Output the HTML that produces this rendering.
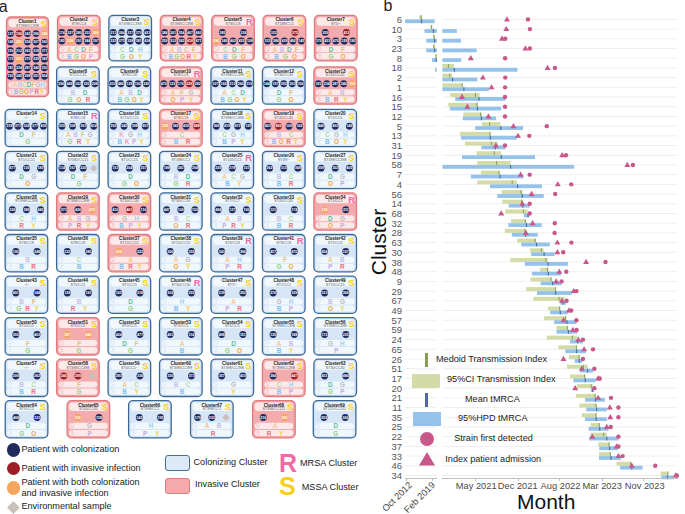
<!DOCTYPE html>
<html><head><meta charset="utf-8"><style>
html,body{margin:0;padding:0;background:#fff;}
body{width:685px;height:514px;position:relative;overflow:hidden;font-family:"Liberation Sans",sans-serif;}
.cb{position:absolute;box-sizing:border-box;border:1.3px solid;border-radius:5px;}
.cb *{position:absolute;}
.tp{left:1.2px;right:1.2px;top:1.3px;height:8.4px;border-radius:4px;}
.tt{left:5.1px;width:30px;top:1.9px;font-size:4.8px;line-height:5px;font-weight:bold;text-align:center;color:#222;letter-spacing:-0.05px;white-space:nowrap;}
.ts{left:5.6px;width:30px;top:5.9px;font-size:3.7px;line-height:4px;text-align:center;color:#555;white-space:nowrap;}
.rs{right:1.6px;top:0.3px;font-size:9.6px;line-height:9px;font-weight:bold;}
.ci{width:6.6px;height:6.6px;border-radius:50%;color:#fff;font-size:3.3px;font-weight:bold;line-height:6.6px;text-align:center;letter-spacing:-0.1px;overflow:hidden;}
.dm{width:5.2px;height:5.2px;background:#c9c1b9;transform:rotate(45deg);}
.lp{left:1.3px;right:1.3px;height:6.0px;border-radius:3px;}
.lt{top:0;width:10px;text-align:center;font-size:6.4px;line-height:6.2px;font-weight:bold;}
.lg{position:absolute;font-size:9.15px;line-height:11px;color:#222;white-space:nowrap;}
.gl{position:absolute;height:1px;background:#efefef;}
.rl{position:absolute;left:370px;width:32px;text-align:right;font-size:9.5px;line-height:12px;color:#555;}
.gb{position:absolute;height:4px;background:#d3dca6;}
.bb{position:absolute;height:3.8px;background:#94c2ea;}
.mt{position:absolute;width:1px;height:4px;background:#8aa04f;}
.nt{position:absolute;width:1.1px;height:3.8px;background:#4d6c9c;}
.tr{position:absolute;}
.cr{position:absolute;width:4.3px;height:4.3px;border-radius:50%;background:#c8578a;}
.ax{position:absolute;height:1px;background:#bdbdbd;}
.tk{position:absolute;width:1px;height:2.5px;background:#bdbdbd;}
.xl{position:absolute;font-size:9.3px;line-height:11px;color:#4a4a4a;white-space:nowrap;}
</style></head><body>
<div style="position:absolute;left:-1.2px;top:-3.3px;font-size:16px;line-height:19px;color:#222">a</div>
<div style="position:absolute;left:383.4px;top:-3.6px;font-size:16px;line-height:19px;color:#222">b</div>
<svg style="position:absolute;left:0;top:0" width="685" height="440" viewBox="0 0 685 440"><style>.tt{font:bold 4.6px "Liberation Sans",sans-serif;fill:#222;text-anchor:middle}.ts{font:3.6px "Liberation Sans",sans-serif;fill:#555;text-anchor:middle}.rs{font:bold 9.2px "Liberation Sans",sans-serif}.cn{font:bold 3.6px "Liberation Sans",sans-serif;fill:#fff;text-anchor:middle}.lt{font:bold 6.4px "Liberation Sans",sans-serif;text-anchor:middle}</style><rect x="6.5" y="17" width="42" height="79.6" rx="4.3" fill="#f4abad" stroke="#e0797e" stroke-width="1.3"/><rect x="8.5" y="18.9" width="38" height="8.4" rx="3.6" fill="#fde9ea"/><text x="27.5" y="22.9" class="tt">Cluster1</text><text x="27.5" y="26.5" class="ts">ST398/CC398</text><text x="40.8" y="26.6" class="rs" fill="#f7cf1b">S</text><circle cx="10.54" cy="33.6" r="3.45" fill="#1f2b5e"/><text x="10.54" y="34.75" class="cn">137</text><circle cx="19.02" cy="33.6" r="3.45" fill="#9c1d26"/><text x="19.02" y="34.75" class="cn">190</text><circle cx="27.5" cy="33.6" r="3.45" fill="#1f2b5e"/><text x="27.5" y="34.75" class="cn">243</text><circle cx="35.98" cy="33.6" r="3.45" fill="#1f2b5e"/><text x="35.98" y="34.75" class="cn">296</text><circle cx="44.46" cy="33.6" r="3.45" fill="#f5a55c"/><text x="44.46" y="34.75" class="cn">349</text><circle cx="10.54" cy="42.12" r="3.45" fill="#1f2b5e"/><text x="10.54" y="43.27" class="cn">148</text><circle cx="19.02" cy="42.12" r="3.45" fill="#f5a55c"/><text x="19.02" y="43.27" class="cn">201</text><circle cx="27.5" cy="42.12" r="3.45" fill="#1f2b5e"/><text x="27.5" y="43.27" class="cn">254</text><circle cx="35.98" cy="42.12" r="3.45" fill="#1f2b5e"/><text x="35.98" y="43.27" class="cn">307</text><circle cx="44.46" cy="42.12" r="3.45" fill="#1f2b5e"/><text x="44.46" y="43.27" class="cn">360</text><circle cx="10.54" cy="50.64" r="3.45" fill="#1f2b5e"/><text x="10.54" y="51.79" class="cn">159</text><circle cx="19.02" cy="50.64" r="3.45" fill="#1f2b5e"/><text x="19.02" y="51.79" class="cn">212</text><circle cx="27.5" cy="50.64" r="3.45" fill="#1f2b5e"/><text x="27.5" y="51.79" class="cn">265</text><circle cx="35.98" cy="50.64" r="3.45" fill="#1f2b5e"/><text x="35.98" y="51.79" class="cn">318</text><circle cx="44.46" cy="50.64" r="3.45" fill="#1f2b5e"/><text x="44.46" y="51.79" class="cn">371</text><circle cx="10.54" cy="59.16" r="3.45" fill="#1f2b5e"/><text x="10.54" y="60.31" class="cn">170</text><circle cx="19.02" cy="59.16" r="3.45" fill="#f5a55c"/><text x="19.02" y="60.31" class="cn">223</text><circle cx="27.5" cy="59.16" r="3.45" fill="#1f2b5e"/><text x="27.5" y="60.31" class="cn">276</text><circle cx="35.98" cy="59.16" r="3.45" fill="#1f2b5e"/><text x="35.98" y="60.31" class="cn">329</text><circle cx="44.46" cy="59.16" r="3.45" fill="#1f2b5e"/><text x="44.46" y="60.31" class="cn">382</text><circle cx="10.54" cy="67.68" r="3.45" fill="#1f2b5e"/><text x="10.54" y="68.83" class="cn">181</text><circle cx="19.02" cy="67.68" r="3.45" fill="#1f2b5e"/><text x="19.02" y="68.83" class="cn">234</text><circle cx="27.5" cy="67.68" r="3.45" fill="#1f2b5e"/><text x="27.5" y="68.83" class="cn">287</text><circle cx="35.98" cy="67.68" r="3.45" fill="#1f2b5e"/><text x="35.98" y="68.83" class="cn">340</text><circle cx="44.46" cy="67.68" r="3.45" fill="#1f2b5e"/><text x="44.46" y="68.83" class="cn">393</text><circle cx="10.54" cy="76.2" r="3.45" fill="#1f2b5e"/><text x="10.54" y="77.35" class="cn">192</text><circle cx="19.02" cy="76.2" r="3.45" fill="#1f2b5e"/><text x="19.02" y="77.35" class="cn">245</text><circle cx="27.5" cy="76.2" r="3.45" fill="#1f2b5e"/><text x="27.5" y="77.35" class="cn">298</text><circle cx="35.98" cy="76.2" r="3.45" fill="#1f2b5e"/><text x="35.98" y="77.35" class="cn">351</text><circle cx="44.46" cy="76.2" r="3.45" fill="#1f2b5e"/><text x="44.46" y="77.35" class="cn">404</text><rect x="8.5" y="81.6" width="38" height="6.1" rx="3" fill="#fde9ea"/><path d="M11.7 86.85 L10.4 84.45 A1.5 1.5 0 1 1 13 84.45 Z" fill="none" stroke="#e8a0a8" stroke-width="0.5"/><text x="15.5" y="87.15" class="lt" fill="#f8c690">A</text><text x="20" y="87.15" class="lt" fill="#c6bee6">B</text><text x="24.5" y="87.15" class="lt" fill="#b3dc9c">C</text><text x="29" y="87.15" class="lt" fill="#5dbf9b">D</text><text x="33.5" y="87.15" class="lt" fill="#dcc37f">F</text><text x="38" y="87.15" class="lt" fill="#b9b9b9">G</text><text x="42.5" y="87.15" class="lt" fill="#9dd3f1">H</text><rect x="8.5" y="88.7" width="38" height="6.1" rx="3" fill="#fde9ea"/><circle cx="11.7" cy="90.75" r="0.9" fill="none" stroke="#e8a0a8" stroke-width="0.5"/><path d="M10 93.95 Q11.7 91.55 13.4 93.95" fill="none" stroke="#e8a0a8" stroke-width="0.5"/><text x="16.14" y="94.25" class="lt" fill="#7dc2ef">B</text><text x="21.29" y="94.25" class="lt" fill="#92d07a">G</text><text x="26.43" y="94.25" class="lt" fill="#f5a53c">O</text><text x="31.57" y="94.25" class="lt" fill="#cba6e0">P</text><text x="36.71" y="94.25" class="lt" fill="#ef6f7b">R</text><text x="41.86" y="94.25" class="lt" fill="#f1d14b">Y</text><rect x="57.5" y="15.4" width="42.6" height="45.5" rx="4.3" fill="#f4abad" stroke="#e0797e" stroke-width="1.3"/><rect x="59.5" y="17.3" width="38.6" height="8.4" rx="3.6" fill="#fde9ea"/><text x="78.8" y="21.3" class="tt">Cluster2</text><text x="78.8" y="24.9" class="ts">ST8/CC8</text><text x="91.8" y="25" class="rs" fill="#f7cf1b">S</text><circle cx="61.84" cy="32.4" r="3.45" fill="#1f2b5e"/><text x="61.84" y="33.55" class="cn">174</text><circle cx="70.32" cy="32.4" r="3.45" fill="#1f2b5e"/><text x="70.32" y="33.55" class="cn">227</text><circle cx="78.8" cy="32.4" r="3.45" fill="#1f2b5e"/><text x="78.8" y="33.55" class="cn">280</text><circle cx="87.28" cy="32.4" r="3.45" fill="#1f2b5e"/><text x="87.28" y="33.55" class="cn">333</text><circle cx="95.76" cy="32.4" r="3.45" fill="#f5a55c"/><text x="95.76" y="33.55" class="cn">386</text><circle cx="61.84" cy="41" r="3.45" fill="#1f2b5e"/><text x="61.84" y="42.15" class="cn">185</text><circle cx="70.32" cy="41" r="3.45" fill="#f5a55c"/><text x="70.32" y="42.15" class="cn">238</text><circle cx="78.8" cy="41" r="3.45" fill="#1f2b5e"/><text x="78.8" y="42.15" class="cn">291</text><circle cx="87.28" cy="41" r="3.45" fill="#1f2b5e"/><text x="87.28" y="42.15" class="cn">344</text><circle cx="95.76" cy="41" r="3.45" fill="#1f2b5e"/><text x="95.76" y="42.15" class="cn">397</text><rect x="59.5" y="46.05" width="38.6" height="6.1" rx="3" fill="#fde9ea"/><path d="M62.7 51.3 L61.4 48.9 A1.5 1.5 0 1 1 64 48.9 Z" fill="none" stroke="#e8a0a8" stroke-width="0.5"/><text x="69.2" y="52.1" class="lt" fill="#f8c690">A</text><text x="76.4" y="52.1" class="lt" fill="#b3dc9c">C</text><text x="83.6" y="52.1" class="lt" fill="#5dbf9b">D</text><text x="90.8" y="52.1" class="lt" fill="#dcc37f">F</text><rect x="59.5" y="53.05" width="38.6" height="6.1" rx="3" fill="#fde9ea"/><circle cx="62.7" cy="55.1" r="0.9" fill="none" stroke="#e8a0a8" stroke-width="0.5"/><path d="M61 58.3 Q62.7 55.9 64.4 58.3" fill="none" stroke="#e8a0a8" stroke-width="0.5"/><text x="69.2" y="59.1" class="lt" fill="#7dc2ef">B</text><text x="76.4" y="59.1" class="lt" fill="#92d07a">G</text><text x="83.6" y="59.1" class="lt" fill="#f5a53c">O</text><text x="90.8" y="59.1" class="lt" fill="#cba6e0">P</text><rect x="108.9" y="15.4" width="42.6" height="45.5" rx="4.3" fill="#d7e6f6" stroke="#3b6997" stroke-width="1.3"/><rect x="110.9" y="17.3" width="38.6" height="8.4" rx="3.6" fill="#f0f7fd"/><text x="130.2" y="21.3" class="tt">Cluster3</text><text x="130.2" y="24.9" class="ts">ST398/CC398</text><text x="143.2" y="25" class="rs" fill="#f7cf1b">S</text><circle cx="113.24" cy="32.4" r="3.45" fill="#1f2b5e"/><text x="113.24" y="33.55" class="cn">211</text><circle cx="121.72" cy="32.4" r="3.45" fill="#1f2b5e"/><text x="121.72" y="33.55" class="cn">264</text><circle cx="130.2" cy="32.4" r="3.45" fill="#1f2b5e"/><text x="130.2" y="33.55" class="cn">317</text><circle cx="138.68" cy="32.4" r="3.45" fill="#1f2b5e"/><text x="138.68" y="33.55" class="cn">370</text><circle cx="147.16" cy="32.4" r="3.45" fill="#1f2b5e"/><text x="147.16" y="33.55" class="cn">423</text><circle cx="113.24" cy="41" r="3.45" fill="#1f2b5e"/><text x="113.24" y="42.15" class="cn">222</text><circle cx="121.72" cy="41" r="3.45" fill="#1f2b5e"/><text x="121.72" y="42.15" class="cn">275</text><circle cx="130.2" cy="41" r="3.45" fill="#1f2b5e"/><text x="130.2" y="42.15" class="cn">328</text><circle cx="138.68" cy="41" r="3.45" fill="#1f2b5e"/><text x="138.68" y="42.15" class="cn">381</text><circle cx="147.16" cy="41" r="3.45" fill="#1f2b5e"/><text x="147.16" y="42.15" class="cn">434</text><rect x="110.9" y="46.05" width="38.6" height="6.1" rx="3" fill="#f0f7fd"/><path d="M114.1 51.3 L112.8 48.9 A1.5 1.5 0 1 1 115.4 48.9 Z" fill="none" stroke="#c9d9ea" stroke-width="0.5"/><text x="122.4" y="52.1" class="lt" fill="#b3dc9c">C</text><text x="131.4" y="52.1" class="lt" fill="#5dbf9b">D</text><text x="140.4" y="52.1" class="lt" fill="#9dd3f1">H</text><rect x="110.9" y="53.05" width="38.6" height="6.1" rx="3" fill="#f0f7fd"/><circle cx="114.1" cy="55.1" r="0.9" fill="none" stroke="#c9d9ea" stroke-width="0.5"/><path d="M112.4 58.3 Q114.1 55.9 115.8 58.3" fill="none" stroke="#c9d9ea" stroke-width="0.5"/><text x="122.4" y="59.1" class="lt" fill="#92d07a">G</text><text x="131.4" y="59.1" class="lt" fill="#f5a53c">O</text><text x="140.4" y="59.1" class="lt" fill="#f1d14b">Y</text><rect x="160.3" y="15.4" width="42.6" height="45.5" rx="4.3" fill="#f4abad" stroke="#e0797e" stroke-width="1.3"/><rect x="162.3" y="17.3" width="38.6" height="8.4" rx="3.6" fill="#fde9ea"/><text x="181.6" y="21.3" class="tt">Cluster4</text><text x="181.6" y="24.9" class="ts">ST398/CC398</text><text x="194.6" y="25" class="rs" fill="#f7cf1b">S</text><circle cx="164.64" cy="32.4" r="3.45" fill="#1f2b5e"/><text x="164.64" y="33.55" class="cn">248</text><circle cx="173.12" cy="32.4" r="3.45" fill="#1f2b5e"/><text x="173.12" y="33.55" class="cn">301</text><circle cx="181.6" cy="32.4" r="3.45" fill="#1f2b5e"/><text x="181.6" y="33.55" class="cn">354</text><circle cx="190.08" cy="32.4" r="3.45" fill="#1f2b5e"/><text x="190.08" y="33.55" class="cn">407</text><circle cx="198.56" cy="32.4" r="3.45" fill="#1f2b5e"/><text x="198.56" y="33.55" class="cn">460</text><circle cx="164.64" cy="41" r="3.45" fill="#1f2b5e"/><text x="164.64" y="42.15" class="cn">259</text><circle cx="173.12" cy="41" r="3.45" fill="#1f2b5e"/><text x="173.12" y="42.15" class="cn">312</text><circle cx="181.6" cy="41" r="3.45" fill="#1f2b5e"/><text x="181.6" y="42.15" class="cn">365</text><circle cx="190.08" cy="41" r="3.45" fill="#9c1d26"/><text x="190.08" y="42.15" class="cn">418</text><circle cx="198.56" cy="41" r="3.45" fill="#1f2b5e"/><text x="198.56" y="42.15" class="cn">471</text><rect x="162.3" y="46.05" width="38.6" height="6.1" rx="3" fill="#fde9ea"/><path d="M165.5 51.3 L164.2 48.9 A1.5 1.5 0 1 1 166.8 48.9 Z" fill="none" stroke="#e8a0a8" stroke-width="0.5"/><text x="172" y="52.1" class="lt" fill="#f8c690">A</text><text x="179.2" y="52.1" class="lt" fill="#c6bee6">B</text><text x="186.4" y="52.1" class="lt" fill="#b3dc9c">C</text><text x="193.6" y="52.1" class="lt" fill="#dcc37f">F</text><rect x="162.3" y="53.05" width="38.6" height="6.1" rx="3" fill="#fde9ea"/><circle cx="165.5" cy="55.1" r="0.9" fill="none" stroke="#e8a0a8" stroke-width="0.5"/><path d="M163.8 58.3 Q165.5 55.9 167.2 58.3" fill="none" stroke="#e8a0a8" stroke-width="0.5"/><text x="170.8" y="59.1" class="lt" fill="#7dc2ef">B</text><text x="176.8" y="59.1" class="lt" fill="#92d07a">G</text><text x="182.8" y="59.1" class="lt" fill="#f5a53c">O</text><text x="188.8" y="59.1" class="lt" fill="#ef6f7b">R</text><text x="194.8" y="59.1" class="lt" fill="#f1d14b">Y</text><rect x="211.7" y="15.4" width="42.6" height="45.5" rx="4.3" fill="#f4abad" stroke="#e0797e" stroke-width="1.3"/><rect x="213.7" y="17.3" width="38.6" height="8.4" rx="3.6" fill="#fde9ea"/><text x="233" y="21.3" class="tt">Cluster5</text><text x="233" y="24.9" class="ts">ST8/CC8</text><text x="246" y="25" class="rs" fill="#f06aa8">R</text><circle cx="222.4" cy="32.4" r="3.45" fill="#1f2b5e"/><text x="222.4" y="33.55" class="cn">285</text><circle cx="243.6" cy="32.4" r="3.45" fill="#1f2b5e"/><text x="243.6" y="33.55" class="cn">338</text><circle cx="216.04" cy="41" r="3.45" fill="#f5a55c"/><text x="216.04" y="42.15" class="cn">296</text><circle cx="224.52" cy="41" r="3.45" fill="#1f2b5e"/><text x="224.52" y="42.15" class="cn">349</text><circle cx="233" cy="41" r="3.45" fill="#1f2b5e"/><text x="233" y="42.15" class="cn">402</text><circle cx="241.48" cy="41" r="3.45" fill="#1f2b5e"/><text x="241.48" y="42.15" class="cn">455</text><circle cx="249.96" cy="41" r="3.45" fill="#1f2b5e"/><text x="249.96" y="42.15" class="cn">108</text><rect x="213.7" y="46.05" width="38.6" height="6.1" rx="3" fill="#fde9ea"/><path d="M216.9 51.3 L215.6 48.9 A1.5 1.5 0 1 1 218.2 48.9 Z" fill="none" stroke="#e8a0a8" stroke-width="0.5"/><text x="225.2" y="52.1" class="lt" fill="#b3dc9c">C</text><text x="234.2" y="52.1" class="lt" fill="#5dbf9b">D</text><text x="243.2" y="52.1" class="lt" fill="#dcc37f">F</text><rect x="213.7" y="53.05" width="38.6" height="6.1" rx="3" fill="#fde9ea"/><circle cx="216.9" cy="55.1" r="0.9" fill="none" stroke="#e8a0a8" stroke-width="0.5"/><path d="M215.2 58.3 Q216.9 55.9 218.6 58.3" fill="none" stroke="#e8a0a8" stroke-width="0.5"/><text x="225.2" y="59.1" class="lt" fill="#7dc2ef">B</text><text x="234.2" y="59.1" class="lt" fill="#92d07a">G</text><text x="243.2" y="59.1" class="lt" fill="#f5a53c">O</text><rect x="263.1" y="15.4" width="42.6" height="45.5" rx="4.3" fill="#f4abad" stroke="#e0797e" stroke-width="1.3"/><rect x="265.1" y="17.3" width="38.6" height="8.4" rx="3.6" fill="#fde9ea"/><text x="284.4" y="21.3" class="tt">Cluster6</text><text x="284.4" y="24.9" class="ts">ST188/CC1</text><text x="297.4" y="25" class="rs" fill="#f7cf1b">S</text><circle cx="273.8" cy="32.4" r="3.45" fill="#1f2b5e"/><text x="273.8" y="33.55" class="cn">322</text><circle cx="295" cy="32.4" r="3.45" fill="#9c1d26"/><text x="295" y="33.55" class="cn">375</text><circle cx="267.44" cy="41" r="3.45" fill="#1f2b5e"/><text x="267.44" y="42.15" class="cn">333</text><circle cx="275.92" cy="41" r="3.45" fill="#1f2b5e"/><text x="275.92" y="42.15" class="cn">386</text><circle cx="284.4" cy="41" r="3.45" fill="#1f2b5e"/><text x="284.4" y="42.15" class="cn">439</text><circle cx="292.88" cy="41" r="3.45" fill="#1f2b5e"/><text x="292.88" y="42.15" class="cn">492</text><circle cx="301.36" cy="41" r="3.45" fill="#1f2b5e"/><text x="301.36" y="42.15" class="cn">145</text><rect x="265.1" y="46.05" width="38.6" height="6.1" rx="3" fill="#fde9ea"/><path d="M268.3 51.3 L267 48.9 A1.5 1.5 0 1 1 269.6 48.9 Z" fill="none" stroke="#e8a0a8" stroke-width="0.5"/><text x="274.8" y="52.1" class="lt" fill="#f8c690">A</text><text x="282" y="52.1" class="lt" fill="#c6bee6">B</text><text x="289.2" y="52.1" class="lt" fill="#5dbf9b">D</text><text x="296.4" y="52.1" class="lt" fill="#dcc37f">F</text><rect x="265.1" y="53.05" width="38.6" height="6.1" rx="3" fill="#fde9ea"/><circle cx="268.3" cy="55.1" r="0.9" fill="none" stroke="#e8a0a8" stroke-width="0.5"/><path d="M266.6 58.3 Q268.3 55.9 270 58.3" fill="none" stroke="#e8a0a8" stroke-width="0.5"/><text x="276.6" y="59.1" class="lt" fill="#7dc2ef">B</text><text x="285.6" y="59.1" class="lt" fill="#92d07a">G</text><text x="294.6" y="59.1" class="lt" fill="#f5a53c">O</text><rect x="314.5" y="15.4" width="42.6" height="45.5" rx="4.3" fill="#f4abad" stroke="#e0797e" stroke-width="1.3"/><rect x="316.5" y="17.3" width="38.6" height="8.4" rx="3.6" fill="#fde9ea"/><text x="335.8" y="21.3" class="tt">Cluster7</text><text x="335.8" y="24.9" class="ts">ST5/~</text><text x="348.8" y="25" class="rs" fill="#f7cf1b">S</text><circle cx="325.2" cy="32.4" r="3.45" fill="#1f2b5e"/><text x="325.2" y="33.55" class="cn">359</text><circle cx="346.4" cy="32.4" r="3.45" fill="#9c1d26"/><text x="346.4" y="33.55" class="cn">412</text><circle cx="318.84" cy="41" r="3.45" fill="#1f2b5e"/><text x="318.84" y="42.15" class="cn">370</text><circle cx="327.32" cy="41" r="3.45" fill="#1f2b5e"/><text x="327.32" y="42.15" class="cn">423</text><circle cx="335.8" cy="41" r="3.45" fill="#1f2b5e"/><text x="335.8" y="42.15" class="cn">476</text><circle cx="344.28" cy="41" r="3.45" fill="#1f2b5e"/><text x="344.28" y="42.15" class="cn">129</text><circle cx="352.76" cy="41" r="3.45" fill="#1f2b5e"/><text x="352.76" y="42.15" class="cn">182</text><rect x="316.5" y="46.05" width="38.6" height="6.1" rx="3" fill="#fde9ea"/><path d="M319.7 51.3 L318.4 48.9 A1.5 1.5 0 1 1 321 48.9 Z" fill="none" stroke="#e8a0a8" stroke-width="0.5"/><text x="331" y="52.1" class="lt" fill="#5dbf9b">D</text><text x="343" y="52.1" class="lt" fill="#dcc37f">F</text><rect x="316.5" y="53.05" width="38.6" height="6.1" rx="3" fill="#fde9ea"/><circle cx="319.7" cy="55.1" r="0.9" fill="none" stroke="#e8a0a8" stroke-width="0.5"/><path d="M318 58.3 Q319.7 55.9 321.4 58.3" fill="none" stroke="#e8a0a8" stroke-width="0.5"/><text x="331" y="59.1" class="lt" fill="#92d07a">G</text><text x="343" y="59.1" class="lt" fill="#f5a53c">O</text><rect x="56.6" y="66.9" width="42.6" height="37.3" rx="4.3" fill="#d7e6f6" stroke="#3b6997" stroke-width="1.3"/><rect x="58.6" y="68.8" width="38.6" height="8.4" rx="3.6" fill="#f0f7fd"/><text x="77.9" y="72.8" class="tt">Cluster8</text><text x="77.9" y="76.4" class="ts">ST1/CC15</text><text x="90.9" y="76.5" class="rs" fill="#f7cf1b">S</text><circle cx="60.94" cy="83.75" r="3.45" fill="#1f2b5e"/><text x="60.94" y="84.9" class="cn">396</text><circle cx="69.42" cy="83.75" r="3.45" fill="#1f2b5e"/><text x="69.42" y="84.9" class="cn">449</text><circle cx="77.9" cy="83.75" r="3.45" fill="#1f2b5e"/><text x="77.9" y="84.9" class="cn">102</text><circle cx="86.38" cy="83.75" r="3.45" fill="#1f2b5e"/><text x="86.38" y="84.9" class="cn">155</text><circle cx="94.86" cy="83.75" r="3.45" fill="#1f2b5e"/><text x="94.86" y="84.9" class="cn">208</text><rect x="58.6" y="89.15" width="38.6" height="6.1" rx="3" fill="#f0f7fd"/><path d="M61.8 94.4 L60.5 92 A1.5 1.5 0 1 1 63.1 92 Z" fill="none" stroke="#c9d9ea" stroke-width="0.5"/><text x="73.1" y="94.7" class="lt" fill="#c6bee6">B</text><text x="85.1" y="94.7" class="lt" fill="#5dbf9b">D</text><rect x="58.6" y="96.25" width="38.6" height="6.1" rx="3" fill="#f0f7fd"/><circle cx="61.8" cy="98.3" r="0.9" fill="none" stroke="#c9d9ea" stroke-width="0.5"/><path d="M60.1 101.5 Q61.8 99.1 63.5 101.5" fill="none" stroke="#c9d9ea" stroke-width="0.5"/><text x="70.1" y="101.8" class="lt" fill="#92d07a">G</text><text x="79.1" y="101.8" class="lt" fill="#f5a53c">O</text><text x="88.1" y="101.8" class="lt" fill="#ef6f7b">R</text><rect x="108.06" y="66.9" width="42.6" height="37.3" rx="4.3" fill="#d7e6f6" stroke="#3b6997" stroke-width="1.3"/><rect x="110.06" y="68.8" width="38.6" height="8.4" rx="3.6" fill="#f0f7fd"/><text x="129.36" y="72.8" class="tt">Cluster9</text><text x="129.36" y="76.4" class="ts">ST8/CC8</text><text x="142.36" y="76.5" class="rs" fill="#f7cf1b">S</text><circle cx="112.4" cy="83.75" r="3.45" fill="#1f2b5e"/><text x="112.4" y="84.9" class="cn">433</text><circle cx="120.88" cy="83.75" r="3.45" fill="#1f2b5e"/><text x="120.88" y="84.9" class="cn">486</text><circle cx="129.36" cy="83.75" r="3.45" fill="#1f2b5e"/><text x="129.36" y="84.9" class="cn">139</text><circle cx="137.84" cy="83.75" r="3.45" fill="#1f2b5e"/><text x="137.84" y="84.9" class="cn">192</text><circle cx="146.32" cy="83.75" r="3.45" fill="#1f2b5e"/><text x="146.32" y="84.9" class="cn">245</text><rect x="110.06" y="89.15" width="38.6" height="6.1" rx="3" fill="#f0f7fd"/><path d="M113.26 94.4 L111.96 92 A1.5 1.5 0 1 1 114.56 92 Z" fill="none" stroke="#c9d9ea" stroke-width="0.5"/><text x="121.56" y="94.7" class="lt" fill="#f8c690">A</text><text x="130.56" y="94.7" class="lt" fill="#c6bee6">B</text><text x="139.56" y="94.7" class="lt" fill="#5dbf9b">D</text><rect x="110.06" y="96.25" width="38.6" height="6.1" rx="3" fill="#f0f7fd"/><circle cx="113.26" cy="98.3" r="0.9" fill="none" stroke="#c9d9ea" stroke-width="0.5"/><path d="M111.56 101.5 Q113.26 99.1 114.96 101.5" fill="none" stroke="#c9d9ea" stroke-width="0.5"/><text x="119.76" y="101.8" class="lt" fill="#7dc2ef">B</text><text x="126.96" y="101.8" class="lt" fill="#92d07a">G</text><text x="134.16" y="101.8" class="lt" fill="#f5a53c">O</text><text x="141.36" y="101.8" class="lt" fill="#f1d14b">Y</text><rect x="159.52" y="66.9" width="42.6" height="37.3" rx="4.3" fill="#f4abad" stroke="#e0797e" stroke-width="1.3"/><rect x="161.52" y="68.8" width="38.6" height="8.4" rx="3.6" fill="#fde9ea"/><text x="180.82" y="72.8" class="tt">Cluster10</text><text x="180.82" y="76.4" class="ts">ST8/CC8</text><text x="193.82" y="76.5" class="rs" fill="#f06aa8">R</text><circle cx="163.86" cy="83.75" r="3.45" fill="#1f2b5e"/><text x="163.86" y="84.9" class="cn">470</text><circle cx="172.34" cy="83.75" r="3.45" fill="#1f2b5e"/><text x="172.34" y="84.9" class="cn">123</text><circle cx="180.82" cy="83.75" r="3.45" fill="#1f2b5e"/><text x="180.82" y="84.9" class="cn">176</text><circle cx="189.3" cy="83.75" r="3.45" fill="#9c1d26"/><text x="189.3" y="84.9" class="cn">229</text><circle cx="197.78" cy="83.75" r="3.45" fill="#1f2b5e"/><text x="197.78" y="84.9" class="cn">282</text><rect x="161.52" y="89.15" width="38.6" height="6.1" rx="3" fill="#fde9ea"/><path d="M164.72 94.4 L163.42 92 A1.5 1.5 0 1 1 166.02 92 Z" fill="none" stroke="#e8a0a8" stroke-width="0.5"/><text x="173.02" y="94.7" class="lt" fill="#f8c690">A</text><text x="182.02" y="94.7" class="lt" fill="#dcc37f">F</text><text x="191.02" y="94.7" class="lt" fill="#b9b9b9">G</text><rect x="161.52" y="96.25" width="38.6" height="6.1" rx="3" fill="#fde9ea"/><circle cx="164.72" cy="98.3" r="0.9" fill="none" stroke="#e8a0a8" stroke-width="0.5"/><path d="M163.02 101.5 Q164.72 99.1 166.42 101.5" fill="none" stroke="#e8a0a8" stroke-width="0.5"/><text x="173.02" y="101.8" class="lt" fill="#f5a53c">O</text><text x="182.02" y="101.8" class="lt" fill="#cba6e0">P</text><text x="191.02" y="101.8" class="lt" fill="#f1d14b">Y</text><rect x="210.98" y="66.9" width="42.6" height="37.3" rx="4.3" fill="#d7e6f6" stroke="#3b6997" stroke-width="1.3"/><rect x="212.98" y="68.8" width="38.6" height="8.4" rx="3.6" fill="#f0f7fd"/><text x="232.28" y="72.8" class="tt">Cluster11</text><text x="232.28" y="76.4" class="ts">ST398/CC398</text><text x="245.28" y="76.5" class="rs" fill="#f7cf1b">S</text><circle cx="215.32" cy="83.75" r="3.45" fill="#1f2b5e"/><text x="215.32" y="84.9" class="cn">107</text><circle cx="223.8" cy="83.75" r="3.45" fill="#1f2b5e"/><text x="223.8" y="84.9" class="cn">160</text><circle cx="232.28" cy="83.75" r="3.45" fill="#1f2b5e"/><text x="232.28" y="84.9" class="cn">213</text><circle cx="240.76" cy="83.75" r="3.45" fill="#1f2b5e"/><text x="240.76" y="84.9" class="cn">266</text><circle cx="249.24" cy="83.75" r="3.45" fill="#1f2b5e"/><text x="249.24" y="84.9" class="cn">319</text><rect x="212.98" y="89.15" width="38.6" height="6.1" rx="3" fill="#f0f7fd"/><path d="M216.18 94.4 L214.88 92 A1.5 1.5 0 1 1 217.48 92 Z" fill="none" stroke="#c9d9ea" stroke-width="0.5"/><text x="224.48" y="94.7" class="lt" fill="#f8c690">A</text><text x="233.48" y="94.7" class="lt" fill="#b3dc9c">C</text><text x="242.48" y="94.7" class="lt" fill="#5dbf9b">D</text><rect x="212.98" y="96.25" width="38.6" height="6.1" rx="3" fill="#f0f7fd"/><circle cx="216.18" cy="98.3" r="0.9" fill="none" stroke="#c9d9ea" stroke-width="0.5"/><path d="M214.48 101.5 Q216.18 99.1 217.88 101.5" fill="none" stroke="#c9d9ea" stroke-width="0.5"/><text x="222.68" y="101.8" class="lt" fill="#7dc2ef">B</text><text x="229.88" y="101.8" class="lt" fill="#92d07a">G</text><text x="237.08" y="101.8" class="lt" fill="#f5a53c">O</text><text x="244.28" y="101.8" class="lt" fill="#f1d14b">Y</text><rect x="262.44" y="66.9" width="42.6" height="37.3" rx="4.3" fill="#d7e6f6" stroke="#3b6997" stroke-width="1.3"/><rect x="264.44" y="68.8" width="38.6" height="8.4" rx="3.6" fill="#f0f7fd"/><text x="283.74" y="72.8" class="tt">Cluster12</text><text x="283.74" y="76.4" class="ts">ST30/CC30</text><text x="296.74" y="76.5" class="rs" fill="#f7cf1b">S</text><circle cx="266.78" cy="83.75" r="3.45" fill="#1f2b5e"/><text x="266.78" y="84.9" class="cn">144</text><circle cx="275.26" cy="83.75" r="3.45" fill="#1f2b5e"/><text x="275.26" y="84.9" class="cn">197</text><circle cx="283.74" cy="83.75" r="3.45" fill="#1f2b5e"/><text x="283.74" y="84.9" class="cn">250</text><circle cx="292.22" cy="83.75" r="3.45" fill="#1f2b5e"/><text x="292.22" y="84.9" class="cn">303</text><circle cx="300.7" cy="83.75" r="3.45" fill="#1f2b5e"/><text x="300.7" y="84.9" class="cn">356</text><rect x="264.44" y="89.15" width="38.6" height="6.1" rx="3" fill="#f0f7fd"/><path d="M267.64 94.4 L266.34 92 A1.5 1.5 0 1 1 268.94 92 Z" fill="none" stroke="#c9d9ea" stroke-width="0.5"/><text x="278.94" y="94.7" class="lt" fill="#5dbf9b">D</text><text x="290.94" y="94.7" class="lt" fill="#dcc37f">F</text><rect x="264.44" y="96.25" width="38.6" height="6.1" rx="3" fill="#f0f7fd"/><circle cx="267.64" cy="98.3" r="0.9" fill="none" stroke="#c9d9ea" stroke-width="0.5"/><path d="M265.94 101.5 Q267.64 99.1 269.34 101.5" fill="none" stroke="#c9d9ea" stroke-width="0.5"/><text x="278.94" y="101.8" class="lt" fill="#92d07a">G</text><text x="290.94" y="101.8" class="lt" fill="#f5a53c">O</text><rect x="313.9" y="66.9" width="42.6" height="37.3" rx="4.3" fill="#f4abad" stroke="#e0797e" stroke-width="1.3"/><rect x="315.9" y="68.8" width="38.6" height="8.4" rx="3.6" fill="#fde9ea"/><text x="335.2" y="72.8" class="tt">Cluster13</text><text x="335.2" y="76.4" class="ts">ST45/CC45</text><text x="348.2" y="76.5" class="rs" fill="#f7cf1b">S</text><circle cx="318.24" cy="83.75" r="3.45" fill="#1f2b5e"/><text x="318.24" y="84.9" class="cn">181</text><circle cx="326.72" cy="83.75" r="3.45" fill="#1f2b5e"/><text x="326.72" y="84.9" class="cn">234</text><circle cx="335.2" cy="83.75" r="3.45" fill="#1f2b5e"/><text x="335.2" y="84.9" class="cn">287</text><circle cx="343.68" cy="83.75" r="3.45" fill="#1f2b5e"/><text x="343.68" y="84.9" class="cn">340</text><circle cx="352.16" cy="83.75" r="3.45" fill="#f5a55c"/><text x="352.16" y="84.9" class="cn">393</text><rect x="315.9" y="89.15" width="38.6" height="6.1" rx="3" fill="#fde9ea"/><path d="M319.1 94.4 L317.8 92 A1.5 1.5 0 1 1 320.4 92 Z" fill="none" stroke="#e8a0a8" stroke-width="0.5"/><text x="330.4" y="94.7" class="lt" fill="#f8c690">A</text><text x="342.4" y="94.7" class="lt" fill="#c6bee6">B</text><rect x="315.9" y="96.25" width="38.6" height="6.1" rx="3" fill="#fde9ea"/><circle cx="319.1" cy="98.3" r="0.9" fill="none" stroke="#e8a0a8" stroke-width="0.5"/><path d="M317.4 101.5 Q319.1 99.1 320.8 101.5" fill="none" stroke="#e8a0a8" stroke-width="0.5"/><text x="327.4" y="101.8" class="lt" fill="#7dc2ef">B</text><text x="336.4" y="101.8" class="lt" fill="#ef6f7b">R</text><text x="345.4" y="101.8" class="lt" fill="#f1d14b">Y</text><rect x="5.14" y="109.4" width="42.6" height="37.3" rx="4.3" fill="#d7e6f6" stroke="#3b6997" stroke-width="1.3"/><rect x="7.14" y="111.3" width="38.6" height="8.4" rx="3.6" fill="#f0f7fd"/><text x="26.44" y="115.3" class="tt">Cluster14</text><text x="26.44" y="118.9" class="ts">~/~</text><text x="39.44" y="119" class="rs" fill="#f7cf1b">S</text><circle cx="9.48" cy="126.25" r="3.45" fill="#1f2b5e"/><text x="9.48" y="127.4" class="cn">218</text><circle cx="17.96" cy="126.25" r="3.45" fill="#1f2b5e"/><text x="17.96" y="127.4" class="cn">271</text><circle cx="26.44" cy="126.25" r="3.45" fill="#1f2b5e"/><text x="26.44" y="127.4" class="cn">324</text><circle cx="34.92" cy="126.25" r="3.45" fill="#1f2b5e"/><text x="34.92" y="127.4" class="cn">377</text><circle cx="43.4" cy="126.25" r="3.45" fill="#1f2b5e"/><text x="43.4" y="127.4" class="cn">430</text><rect x="7.14" y="131.65" width="38.6" height="6.1" rx="3" fill="#f0f7fd"/><path d="M10.34 136.9 L9.04 134.5 A1.5 1.5 0 1 1 11.64 134.5 Z" fill="none" stroke="#c9d9ea" stroke-width="0.5"/><text x="21.64" y="137.2" class="lt" fill="#5dbf9b">D</text><text x="33.64" y="137.2" class="lt" fill="#dcc37f">F</text><rect x="7.14" y="138.75" width="38.6" height="6.1" rx="3" fill="#f0f7fd"/><circle cx="10.34" cy="140.8" r="0.9" fill="none" stroke="#c9d9ea" stroke-width="0.5"/><path d="M8.64 144 Q10.34 141.6 12.04 144" fill="none" stroke="#c9d9ea" stroke-width="0.5"/><text x="27.64" y="144.3" class="lt" fill="#92d07a">G</text><rect x="56.6" y="109.4" width="42.6" height="37.3" rx="4.3" fill="#d7e6f6" stroke="#3b6997" stroke-width="1.3"/><rect x="58.6" y="111.3" width="38.6" height="8.4" rx="3.6" fill="#f0f7fd"/><text x="77.9" y="115.3" class="tt">Cluster15</text><text x="77.9" y="118.9" class="ts">ST8/CC8</text><text x="90.9" y="119" class="rs" fill="#f06aa8">R</text><circle cx="62" cy="126.25" r="3.45" fill="#1f2b5e"/><text x="62" y="127.4" class="cn">255</text><circle cx="72.6" cy="126.25" r="3.45" fill="#1f2b5e"/><text x="72.6" y="127.4" class="cn">308</text><circle cx="83.2" cy="126.25" r="3.45" fill="#1f2b5e"/><text x="83.2" y="127.4" class="cn">361</text><circle cx="93.8" cy="126.25" r="3.45" fill="#1f2b5e"/><text x="93.8" y="127.4" class="cn">414</text><rect x="58.6" y="131.65" width="38.6" height="6.1" rx="3" fill="#f0f7fd"/><path d="M61.8 136.9 L60.5 134.5 A1.5 1.5 0 1 1 63.1 134.5 Z" fill="none" stroke="#c9d9ea" stroke-width="0.5"/><text x="68.3" y="137.2" class="lt" fill="#f8c690">A</text><text x="75.5" y="137.2" class="lt" fill="#c6bee6">B</text><text x="82.7" y="137.2" class="lt" fill="#dcc37f">F</text><text x="89.9" y="137.2" class="lt" fill="#b9b9b9">G</text><rect x="58.6" y="138.75" width="38.6" height="6.1" rx="3" fill="#f0f7fd"/><circle cx="61.8" cy="140.8" r="0.9" fill="none" stroke="#c9d9ea" stroke-width="0.5"/><path d="M60.1 144 Q61.8 141.6 63.5 144" fill="none" stroke="#c9d9ea" stroke-width="0.5"/><text x="70.1" y="144.3" class="lt" fill="#92d07a">G</text><text x="79.1" y="144.3" class="lt" fill="#ef6f7b">R</text><text x="88.1" y="144.3" class="lt" fill="#f1d14b">Y</text><rect x="108.06" y="109.4" width="42.6" height="37.3" rx="4.3" fill="#d7e6f6" stroke="#3b6997" stroke-width="1.3"/><rect x="110.06" y="111.3" width="38.6" height="8.4" rx="3.6" fill="#f0f7fd"/><text x="129.36" y="115.3" class="tt">Cluster16</text><text x="129.36" y="118.9" class="ts">ST15/CC15</text><text x="142.36" y="119" class="rs" fill="#f7cf1b">S</text><circle cx="113.46" cy="126.25" r="3.45" fill="#1f2b5e"/><text x="113.46" y="127.4" class="cn">292</text><circle cx="124.06" cy="126.25" r="3.45" fill="#1f2b5e"/><text x="124.06" y="127.4" class="cn">345</text><circle cx="134.66" cy="126.25" r="3.45" fill="#1f2b5e"/><text x="134.66" y="127.4" class="cn">398</text><circle cx="145.26" cy="126.25" r="3.45" fill="#1f2b5e"/><text x="145.26" y="127.4" class="cn">451</text><rect x="110.06" y="131.65" width="38.6" height="6.1" rx="3" fill="#f0f7fd"/><path d="M113.26 136.9 L111.96 134.5 A1.5 1.5 0 1 1 114.56 134.5 Z" fill="none" stroke="#c9d9ea" stroke-width="0.5"/><text x="121.56" y="137.2" class="lt" fill="#f3a5b8">K</text><text x="130.56" y="137.2" class="lt" fill="#b9b9b9">G</text><text x="139.56" y="137.2" class="lt" fill="#9dd3f1">H</text><rect x="110.06" y="138.75" width="38.6" height="6.1" rx="3" fill="#f0f7fd"/><circle cx="113.26" cy="140.8" r="0.9" fill="none" stroke="#c9d9ea" stroke-width="0.5"/><path d="M111.56 144 Q113.26 141.6 114.96 144" fill="none" stroke="#c9d9ea" stroke-width="0.5"/><text x="119.76" y="144.3" class="lt" fill="#7dc2ef">B</text><text x="126.96" y="144.3" class="lt" fill="#f39ab6">K</text><text x="134.16" y="144.3" class="lt" fill="#cba6e0">P</text><text x="141.36" y="144.3" class="lt" fill="#f1d14b">Y</text><rect x="159.52" y="109.4" width="42.6" height="37.3" rx="4.3" fill="#f4abad" stroke="#e0797e" stroke-width="1.3"/><rect x="161.52" y="111.3" width="38.6" height="8.4" rx="3.6" fill="#fde9ea"/><text x="180.82" y="115.3" class="tt">Cluster17</text><text x="180.82" y="118.9" class="ts">ST8/CC8</text><text x="193.82" y="119" class="rs" fill="#f7cf1b">S</text><circle cx="164.92" cy="126.25" r="3.45" fill="#f5a55c"/><text x="164.92" y="127.4" class="cn">329</text><circle cx="175.52" cy="126.25" r="3.45" fill="#1f2b5e"/><text x="175.52" y="127.4" class="cn">382</text><circle cx="186.12" cy="126.25" r="3.45" fill="#1f2b5e"/><text x="186.12" y="127.4" class="cn">435</text><circle cx="196.72" cy="126.25" r="3.45" fill="#9c1d26"/><text x="196.72" y="127.4" class="cn">488</text><rect x="161.52" y="131.65" width="38.6" height="6.1" rx="3" fill="#fde9ea"/><path d="M164.72 136.9 L163.42 134.5 A1.5 1.5 0 1 1 166.02 134.5 Z" fill="none" stroke="#e8a0a8" stroke-width="0.5"/><text x="182.02" y="137.2" class="lt" fill="#b3dc9c">C</text><rect x="161.52" y="138.75" width="38.6" height="6.1" rx="3" fill="#fde9ea"/><circle cx="164.72" cy="140.8" r="0.9" fill="none" stroke="#e8a0a8" stroke-width="0.5"/><path d="M163.02 144 Q164.72 141.6 166.42 144" fill="none" stroke="#e8a0a8" stroke-width="0.5"/><text x="176.02" y="144.3" class="lt" fill="#7dc2ef">B</text><text x="188.02" y="144.3" class="lt" fill="#ef6f7b">R</text><rect x="210.98" y="109.4" width="42.6" height="37.3" rx="4.3" fill="#d7e6f6" stroke="#3b6997" stroke-width="1.3"/><rect x="212.98" y="111.3" width="38.6" height="8.4" rx="3.6" fill="#f0f7fd"/><text x="232.28" y="115.3" class="tt">Cluster18</text><text x="232.28" y="118.9" class="ts">ST398/CC398</text><text x="245.28" y="119" class="rs" fill="#f7cf1b">S</text><circle cx="216.38" cy="126.25" r="3.45" fill="#1f2b5e"/><text x="216.38" y="127.4" class="cn">366</text><circle cx="226.98" cy="126.25" r="3.45" fill="#1f2b5e"/><text x="226.98" y="127.4" class="cn">419</text><circle cx="237.58" cy="126.25" r="3.45" fill="#1f2b5e"/><text x="237.58" y="127.4" class="cn">472</text><circle cx="248.18" cy="126.25" r="3.45" fill="#1f2b5e"/><text x="248.18" y="127.4" class="cn">125</text><rect x="212.98" y="131.65" width="38.6" height="6.1" rx="3" fill="#f0f7fd"/><path d="M216.18 136.9 L214.88 134.5 A1.5 1.5 0 1 1 217.48 134.5 Z" fill="none" stroke="#c9d9ea" stroke-width="0.5"/><text x="224.48" y="137.2" class="lt" fill="#b3dc9c">C</text><text x="233.48" y="137.2" class="lt" fill="#b9b9b9">G</text><text x="242.48" y="137.2" class="lt" fill="#9dd3f1">H</text><rect x="212.98" y="138.75" width="38.6" height="6.1" rx="3" fill="#f0f7fd"/><circle cx="216.18" cy="140.8" r="0.9" fill="none" stroke="#c9d9ea" stroke-width="0.5"/><path d="M214.48 144 Q216.18 141.6 217.88 144" fill="none" stroke="#c9d9ea" stroke-width="0.5"/><text x="224.48" y="144.3" class="lt" fill="#7dc2ef">B</text><text x="233.48" y="144.3" class="lt" fill="#cba6e0">P</text><text x="242.48" y="144.3" class="lt" fill="#f1d14b">Y</text><rect x="262.44" y="109.4" width="42.6" height="37.3" rx="4.3" fill="#f4abad" stroke="#e0797e" stroke-width="1.3"/><rect x="264.44" y="111.3" width="38.6" height="8.4" rx="3.6" fill="#fde9ea"/><text x="283.74" y="115.3" class="tt">Cluster19</text><text x="283.74" y="118.9" class="ts">ST45/CC45</text><text x="296.74" y="119" class="rs" fill="#f7cf1b">S</text><circle cx="267.84" cy="126.25" r="3.45" fill="#1f2b5e"/><text x="267.84" y="127.4" class="cn">403</text><circle cx="278.44" cy="126.25" r="3.45" fill="#9c1d26"/><text x="278.44" y="127.4" class="cn">456</text><circle cx="289.04" cy="126.25" r="3.45" fill="#1f2b5e"/><text x="289.04" y="127.4" class="cn">109</text><circle cx="299.64" cy="126.25" r="3.45" fill="#1f2b5e"/><text x="299.64" y="127.4" class="cn">162</text><rect x="264.44" y="131.65" width="38.6" height="6.1" rx="3" fill="#fde9ea"/><path d="M267.64 136.9 L266.34 134.5 A1.5 1.5 0 1 1 268.94 134.5 Z" fill="none" stroke="#e8a0a8" stroke-width="0.5"/><text x="278.94" y="137.2" class="lt" fill="#c6bee6">B</text><text x="290.94" y="137.2" class="lt" fill="#b3dc9c">C</text><rect x="264.44" y="138.75" width="38.6" height="6.1" rx="3" fill="#fde9ea"/><circle cx="267.64" cy="140.8" r="0.9" fill="none" stroke="#e8a0a8" stroke-width="0.5"/><path d="M265.94 144 Q267.64 141.6 269.34 144" fill="none" stroke="#e8a0a8" stroke-width="0.5"/><text x="274.14" y="144.3" class="lt" fill="#7dc2ef">B</text><text x="281.34" y="144.3" class="lt" fill="#f5a53c">O</text><text x="288.54" y="144.3" class="lt" fill="#ef6f7b">R</text><text x="295.74" y="144.3" class="lt" fill="#f1d14b">Y</text><rect x="313.9" y="109.4" width="42.6" height="37.3" rx="4.3" fill="#d7e6f6" stroke="#3b6997" stroke-width="1.3"/><rect x="315.9" y="111.3" width="38.6" height="8.4" rx="3.6" fill="#f0f7fd"/><text x="335.2" y="115.3" class="tt">Cluster20</text><text x="335.2" y="118.9" class="ts">ST5/CC5</text><text x="348.2" y="119" class="rs" fill="#f7cf1b">S</text><circle cx="321.07" cy="126.25" r="3.45" fill="#1f2b5e"/><text x="321.07" y="127.4" class="cn">440</text><circle cx="335.2" cy="126.25" r="3.45" fill="#1f2b5e"/><text x="335.2" y="127.4" class="cn">493</text><circle cx="349.33" cy="126.25" r="3.45" fill="#1f2b5e"/><text x="349.33" y="127.4" class="cn">146</text><rect x="315.9" y="131.65" width="38.6" height="6.1" rx="3" fill="#f0f7fd"/><path d="M319.1 136.9 L317.8 134.5 A1.5 1.5 0 1 1 320.4 134.5 Z" fill="none" stroke="#c9d9ea" stroke-width="0.5"/><text x="327.4" y="137.2" class="lt" fill="#b3dc9c">C</text><text x="336.4" y="137.2" class="lt" fill="#b9b9b9">G</text><text x="345.4" y="137.2" class="lt" fill="#9dd3f1">H</text><rect x="315.9" y="138.75" width="38.6" height="6.1" rx="3" fill="#f0f7fd"/><circle cx="319.1" cy="140.8" r="0.9" fill="none" stroke="#c9d9ea" stroke-width="0.5"/><path d="M317.4 144 Q319.1 141.6 320.8 144" fill="none" stroke="#c9d9ea" stroke-width="0.5"/><text x="327.4" y="144.3" class="lt" fill="#7dc2ef">B</text><text x="336.4" y="144.3" class="lt" fill="#f5a53c">O</text><text x="345.4" y="144.3" class="lt" fill="#f1d14b">Y</text><rect x="5.14" y="151.3" width="42.6" height="37.3" rx="4.3" fill="#d7e6f6" stroke="#3b6997" stroke-width="1.3"/><rect x="7.14" y="153.2" width="38.6" height="8.4" rx="3.6" fill="#f0f7fd"/><text x="26.44" y="157.2" class="tt">Cluster21</text><text x="26.44" y="160.8" class="ts">ST1/CC15</text><text x="39.44" y="160.9" class="rs" fill="#f7cf1b">S</text><circle cx="12.31" cy="168.15" r="3.45" fill="#1f2b5e"/><text x="12.31" y="169.3" class="cn">477</text><circle cx="26.44" cy="168.15" r="3.45" fill="#1f2b5e"/><text x="26.44" y="169.3" class="cn">130</text><circle cx="40.57" cy="168.15" r="3.45" fill="#1f2b5e"/><text x="40.57" y="169.3" class="cn">183</text><rect x="7.14" y="173.55" width="38.6" height="6.1" rx="3" fill="#f0f7fd"/><path d="M10.34 178.8 L9.04 176.4 A1.5 1.5 0 1 1 11.64 176.4 Z" fill="none" stroke="#c9d9ea" stroke-width="0.5"/><text x="21.64" y="179.1" class="lt" fill="#5dbf9b">D</text><text x="33.64" y="179.1" class="lt" fill="#b9b9b9">G</text><rect x="7.14" y="180.65" width="38.6" height="6.1" rx="3" fill="#f0f7fd"/><circle cx="10.34" cy="182.7" r="0.9" fill="none" stroke="#c9d9ea" stroke-width="0.5"/><path d="M8.64 185.9 Q10.34 183.5 12.04 185.9" fill="none" stroke="#c9d9ea" stroke-width="0.5"/><text x="27.64" y="186.2" class="lt" fill="#f5a53c">O</text><rect x="56.6" y="151.3" width="42.6" height="37.3" rx="4.3" fill="#d7e6f6" stroke="#3b6997" stroke-width="1.3"/><rect x="58.6" y="153.2" width="38.6" height="8.4" rx="3.6" fill="#f0f7fd"/><text x="77.9" y="157.2" class="tt">Cluster22</text><text x="77.9" y="160.8" class="ts">ST582/CC15</text><text x="90.9" y="160.9" class="rs" fill="#f7cf1b">S</text><circle cx="62" cy="168.15" r="3.45" fill="#1f2b5e"/><text x="62" y="169.3" class="cn">114</text><circle cx="72.6" cy="168.15" r="3.45" fill="#1f2b5e"/><text x="72.6" y="169.3" class="cn">167</text><circle cx="83.2" cy="168.15" r="3.45" fill="#1f2b5e"/><text x="83.2" y="169.3" class="cn">220</text><rect x="91.2" y="165.55" width="5.2" height="5.2" fill="#c9c1b9" transform="rotate(45 93.8 168.15)"/><rect x="58.6" y="173.55" width="38.6" height="6.1" rx="3" fill="#f0f7fd"/><path d="M61.8 178.8 L60.5 176.4 A1.5 1.5 0 1 1 63.1 176.4 Z" fill="none" stroke="#c9d9ea" stroke-width="0.5"/><text x="73.1" y="179.1" class="lt" fill="#5dbf9b">D</text><text x="85.1" y="179.1" class="lt" fill="#dcc37f">F</text><rect x="58.6" y="180.65" width="38.6" height="6.1" rx="3" fill="#f0f7fd"/><circle cx="61.8" cy="182.7" r="0.9" fill="none" stroke="#c9d9ea" stroke-width="0.5"/><path d="M60.1 185.9 Q61.8 183.5 63.5 185.9" fill="none" stroke="#c9d9ea" stroke-width="0.5"/><text x="79.1" y="186.2" class="lt" fill="#92d07a">G</text><rect x="108.06" y="151.3" width="42.6" height="37.3" rx="4.3" fill="#d7e6f6" stroke="#3b6997" stroke-width="1.3"/><rect x="110.06" y="153.2" width="38.6" height="8.4" rx="3.6" fill="#f0f7fd"/><text x="129.36" y="157.2" class="tt">Cluster23</text><text x="129.36" y="160.8" class="ts">ST1/CC15</text><text x="142.36" y="160.9" class="rs" fill="#f7cf1b">S</text><circle cx="115.23" cy="168.15" r="3.45" fill="#1f2b5e"/><text x="115.23" y="169.3" class="cn">151</text><circle cx="129.36" cy="168.15" r="3.45" fill="#1f2b5e"/><text x="129.36" y="169.3" class="cn">204</text><circle cx="143.49" cy="168.15" r="3.45" fill="#1f2b5e"/><text x="143.49" y="169.3" class="cn">257</text><rect x="110.06" y="173.55" width="38.6" height="6.1" rx="3" fill="#f0f7fd"/><path d="M113.26 178.8 L111.96 176.4 A1.5 1.5 0 1 1 114.56 176.4 Z" fill="none" stroke="#c9d9ea" stroke-width="0.5"/><text x="130.56" y="179.1" class="lt" fill="#5dbf9b">D</text><rect x="110.06" y="180.65" width="38.6" height="6.1" rx="3" fill="#f0f7fd"/><circle cx="113.26" cy="182.7" r="0.9" fill="none" stroke="#c9d9ea" stroke-width="0.5"/><path d="M111.56 185.9 Q113.26 183.5 114.96 185.9" fill="none" stroke="#c9d9ea" stroke-width="0.5"/><text x="124.56" y="186.2" class="lt" fill="#92d07a">G</text><text x="136.56" y="186.2" class="lt" fill="#f5a53c">O</text><rect x="159.52" y="151.3" width="42.6" height="37.3" rx="4.3" fill="#d7e6f6" stroke="#3b6997" stroke-width="1.3"/><rect x="161.52" y="153.2" width="38.6" height="8.4" rx="3.6" fill="#f0f7fd"/><text x="180.82" y="157.2" class="tt">Cluster24</text><text x="180.82" y="160.8" class="ts">ST188/CC1</text><text x="193.82" y="160.9" class="rs" fill="#f7cf1b">S</text><circle cx="166.69" cy="168.15" r="3.45" fill="#1f2b5e"/><text x="166.69" y="169.3" class="cn">188</text><circle cx="180.82" cy="168.15" r="3.45" fill="#1f2b5e"/><text x="180.82" y="169.3" class="cn">241</text><circle cx="194.95" cy="168.15" r="3.45" fill="#1f2b5e"/><text x="194.95" y="169.3" class="cn">294</text><rect x="161.52" y="173.55" width="38.6" height="6.1" rx="3" fill="#f0f7fd"/><path d="M164.72 178.8 L163.42 176.4 A1.5 1.5 0 1 1 166.02 176.4 Z" fill="none" stroke="#c9d9ea" stroke-width="0.5"/><text x="176.02" y="179.1" class="lt" fill="#c6bee6">B</text><text x="188.02" y="179.1" class="lt" fill="#5dbf9b">D</text><rect x="161.52" y="180.65" width="38.6" height="6.1" rx="3" fill="#f0f7fd"/><circle cx="164.72" cy="182.7" r="0.9" fill="none" stroke="#c9d9ea" stroke-width="0.5"/><path d="M163.02 185.9 Q164.72 183.5 166.42 185.9" fill="none" stroke="#c9d9ea" stroke-width="0.5"/><text x="176.02" y="186.2" class="lt" fill="#92d07a">G</text><text x="188.02" y="186.2" class="lt" fill="#ef6f7b">R</text><rect x="210.98" y="151.3" width="42.6" height="37.3" rx="4.3" fill="#d7e6f6" stroke="#3b6997" stroke-width="1.3"/><rect x="212.98" y="153.2" width="38.6" height="8.4" rx="3.6" fill="#f0f7fd"/><text x="232.28" y="157.2" class="tt">Cluster25</text><text x="232.28" y="160.8" class="ts">ST105/CC5</text><text x="245.28" y="160.9" class="rs" fill="#f06aa8">R</text><circle cx="218.15" cy="168.15" r="3.45" fill="#1f2b5e"/><text x="218.15" y="169.3" class="cn">225</text><circle cx="232.28" cy="168.15" r="3.45" fill="#1f2b5e"/><text x="232.28" y="169.3" class="cn">278</text><circle cx="246.41" cy="168.15" r="3.45" fill="#1f2b5e"/><text x="246.41" y="169.3" class="cn">331</text><rect x="212.98" y="173.55" width="38.6" height="6.1" rx="3" fill="#f0f7fd"/><path d="M216.18 178.8 L214.88 176.4 A1.5 1.5 0 1 1 217.48 176.4 Z" fill="none" stroke="#c9d9ea" stroke-width="0.5"/><text x="224.48" y="179.1" class="lt" fill="#f8c690">A</text><text x="233.48" y="179.1" class="lt" fill="#b3dc9c">C</text><text x="242.48" y="179.1" class="lt" fill="#b9b9b9">G</text><rect x="212.98" y="180.65" width="38.6" height="6.1" rx="3" fill="#f0f7fd"/><circle cx="216.18" cy="182.7" r="0.9" fill="none" stroke="#c9d9ea" stroke-width="0.5"/><path d="M214.48 185.9 Q216.18 183.5 217.88 185.9" fill="none" stroke="#c9d9ea" stroke-width="0.5"/><text x="227.48" y="186.2" class="lt" fill="#7dc2ef">B</text><text x="239.48" y="186.2" class="lt" fill="#f1d14b">Y</text><rect x="262.44" y="151.3" width="42.6" height="37.3" rx="4.3" fill="#d7e6f6" stroke="#3b6997" stroke-width="1.3"/><rect x="264.44" y="153.2" width="38.6" height="8.4" rx="3.6" fill="#f0f7fd"/><text x="283.74" y="157.2" class="tt">Cluster26</text><text x="283.74" y="160.8" class="ts">ST39/~</text><text x="296.74" y="160.9" class="rs" fill="#f7cf1b">S</text><circle cx="269.61" cy="168.15" r="3.45" fill="#1f2b5e"/><text x="269.61" y="169.3" class="cn">262</text><circle cx="283.74" cy="168.15" r="3.45" fill="#1f2b5e"/><text x="283.74" y="169.3" class="cn">315</text><circle cx="297.87" cy="168.15" r="3.45" fill="#1f2b5e"/><text x="297.87" y="169.3" class="cn">368</text><rect x="264.44" y="173.55" width="38.6" height="6.1" rx="3" fill="#f0f7fd"/><path d="M267.64 178.8 L266.34 176.4 A1.5 1.5 0 1 1 268.94 176.4 Z" fill="none" stroke="#c9d9ea" stroke-width="0.5"/><text x="278.94" y="179.1" class="lt" fill="#c6bee6">B</text><text x="290.94" y="179.1" class="lt" fill="#b3dc9c">C</text><rect x="264.44" y="180.65" width="38.6" height="6.1" rx="3" fill="#f0f7fd"/><circle cx="267.64" cy="182.7" r="0.9" fill="none" stroke="#c9d9ea" stroke-width="0.5"/><path d="M265.94 185.9 Q267.64 183.5 269.34 185.9" fill="none" stroke="#c9d9ea" stroke-width="0.5"/><text x="278.94" y="186.2" class="lt" fill="#7dc2ef">B</text><text x="290.94" y="186.2" class="lt" fill="#ef6f7b">R</text><rect x="313.9" y="151.3" width="42.6" height="37.3" rx="4.3" fill="#d7e6f6" stroke="#3b6997" stroke-width="1.3"/><rect x="315.9" y="153.2" width="38.6" height="8.4" rx="3.6" fill="#f0f7fd"/><text x="335.2" y="157.2" class="tt">Cluster27</text><text x="335.2" y="160.8" class="ts">ST398/CC398</text><text x="348.2" y="160.9" class="rs" fill="#f7cf1b">S</text><circle cx="321.07" cy="168.15" r="3.45" fill="#1f2b5e"/><text x="321.07" y="169.3" class="cn">299</text><circle cx="335.2" cy="168.15" r="3.45" fill="#1f2b5e"/><text x="335.2" y="169.3" class="cn">352</text><circle cx="349.33" cy="168.15" r="3.45" fill="#1f2b5e"/><text x="349.33" y="169.3" class="cn">405</text><rect x="315.9" y="173.55" width="38.6" height="6.1" rx="3" fill="#f0f7fd"/><path d="M319.1 178.8 L317.8 176.4 A1.5 1.5 0 1 1 320.4 176.4 Z" fill="none" stroke="#c9d9ea" stroke-width="0.5"/><text x="330.4" y="179.1" class="lt" fill="#5dbf9b">D</text><text x="342.4" y="179.1" class="lt" fill="#b9b9b9">G</text><rect x="315.9" y="180.65" width="38.6" height="6.1" rx="3" fill="#f0f7fd"/><circle cx="319.1" cy="182.7" r="0.9" fill="none" stroke="#c9d9ea" stroke-width="0.5"/><path d="M317.4 185.9 Q319.1 183.5 320.8 185.9" fill="none" stroke="#c9d9ea" stroke-width="0.5"/><text x="330.4" y="186.2" class="lt" fill="#f5a53c">O</text><text x="342.4" y="186.2" class="lt" fill="#cba6e0">P</text><rect x="5.14" y="192.9" width="42.6" height="37.3" rx="4.3" fill="#d7e6f6" stroke="#3b6997" stroke-width="1.3"/><rect x="7.14" y="194.8" width="38.6" height="8.4" rx="3.6" fill="#f0f7fd"/><text x="26.44" y="198.8" class="tt">Cluster28</text><text x="26.44" y="202.4" class="ts">ST398/CC398</text><text x="39.44" y="202.5" class="rs" fill="#f7cf1b">S</text><circle cx="12.31" cy="209.75" r="3.45" fill="#1f2b5e"/><text x="12.31" y="210.9" class="cn">336</text><circle cx="26.44" cy="209.75" r="3.45" fill="#1f2b5e"/><text x="26.44" y="210.9" class="cn">389</text><circle cx="40.57" cy="209.75" r="3.45" fill="#1f2b5e"/><text x="40.57" y="210.9" class="cn">442</text><rect x="7.14" y="215.15" width="38.6" height="6.1" rx="3" fill="#f0f7fd"/><path d="M10.34 220.4 L9.04 218 A1.5 1.5 0 1 1 11.64 218 Z" fill="none" stroke="#c9d9ea" stroke-width="0.5"/><text x="21.64" y="220.7" class="lt" fill="#b3dc9c">C</text><text x="33.64" y="220.7" class="lt" fill="#9dd3f1">H</text><rect x="7.14" y="222.25" width="38.6" height="6.1" rx="3" fill="#f0f7fd"/><circle cx="10.34" cy="224.3" r="0.9" fill="none" stroke="#c9d9ea" stroke-width="0.5"/><path d="M8.64 227.5 Q10.34 225.1 12.04 227.5" fill="none" stroke="#c9d9ea" stroke-width="0.5"/><text x="21.64" y="227.8" class="lt" fill="#ef6f7b">R</text><text x="33.64" y="227.8" class="lt" fill="#f1d14b">Y</text><rect x="56.6" y="192.9" width="42.6" height="37.3" rx="4.3" fill="#f4abad" stroke="#e0797e" stroke-width="1.3"/><rect x="58.6" y="194.8" width="38.6" height="8.4" rx="3.6" fill="#fde9ea"/><text x="77.9" y="198.8" class="tt">Cluster29</text><text x="77.9" y="202.4" class="ts">ST398/CC398</text><text x="90.9" y="202.5" class="rs" fill="#f7cf1b">S</text><circle cx="63.77" cy="209.75" r="3.45" fill="#1f2b5e"/><text x="63.77" y="210.9" class="cn">373</text><circle cx="77.9" cy="209.75" r="3.45" fill="#1f2b5e"/><text x="77.9" y="210.9" class="cn">426</text><circle cx="92.03" cy="209.75" r="3.45" fill="#f5a55c"/><text x="92.03" y="210.9" class="cn">479</text><rect x="58.6" y="215.15" width="38.6" height="6.1" rx="3" fill="#fde9ea"/><path d="M61.8 220.4 L60.5 218 A1.5 1.5 0 1 1 63.1 218 Z" fill="none" stroke="#e8a0a8" stroke-width="0.5"/><text x="70.1" y="220.7" class="lt" fill="#f8c690">A</text><text x="79.1" y="220.7" class="lt" fill="#c6bee6">B</text><text x="88.1" y="220.7" class="lt" fill="#b9b9b9">G</text><rect x="58.6" y="222.25" width="38.6" height="6.1" rx="3" fill="#fde9ea"/><circle cx="61.8" cy="224.3" r="0.9" fill="none" stroke="#e8a0a8" stroke-width="0.5"/><path d="M60.1 227.5 Q61.8 225.1 63.5 227.5" fill="none" stroke="#e8a0a8" stroke-width="0.5"/><text x="70.1" y="227.8" class="lt" fill="#cba6e0">P</text><text x="79.1" y="227.8" class="lt" fill="#ef6f7b">R</text><text x="88.1" y="227.8" class="lt" fill="#f1d14b">Y</text><rect x="108.06" y="192.9" width="42.6" height="37.3" rx="4.3" fill="#f4abad" stroke="#e0797e" stroke-width="1.3"/><rect x="110.06" y="194.8" width="38.6" height="8.4" rx="3.6" fill="#fde9ea"/><text x="129.36" y="198.8" class="tt">Cluster30</text><text x="129.36" y="202.4" class="ts">ST30/CC30</text><text x="142.36" y="202.5" class="rs" fill="#f7cf1b">S</text><circle cx="115.23" cy="209.75" r="3.45" fill="#1f2b5e"/><text x="115.23" y="210.9" class="cn">410</text><circle cx="129.36" cy="209.75" r="3.45" fill="#9c1d26"/><text x="129.36" y="210.9" class="cn">463</text><circle cx="143.49" cy="209.75" r="3.45" fill="#1f2b5e"/><text x="143.49" y="210.9" class="cn">116</text><rect x="110.06" y="215.15" width="38.6" height="6.1" rx="3" fill="#fde9ea"/><path d="M113.26 220.4 L111.96 218 A1.5 1.5 0 1 1 114.56 218 Z" fill="none" stroke="#e8a0a8" stroke-width="0.5"/><text x="124.56" y="220.7" class="lt" fill="#b9b9b9">G</text><text x="136.56" y="220.7" class="lt" fill="#9dd3f1">H</text><rect x="110.06" y="222.25" width="38.6" height="6.1" rx="3" fill="#fde9ea"/><circle cx="113.26" cy="224.3" r="0.9" fill="none" stroke="#e8a0a8" stroke-width="0.5"/><path d="M111.56 227.5 Q113.26 225.1 114.96 227.5" fill="none" stroke="#e8a0a8" stroke-width="0.5"/><text x="121.56" y="227.8" class="lt" fill="#7dc2ef">B</text><text x="130.56" y="227.8" class="lt" fill="#cba6e0">P</text><text x="139.56" y="227.8" class="lt" fill="#f1d14b">Y</text><rect x="159.52" y="192.9" width="42.6" height="37.3" rx="4.3" fill="#d7e6f6" stroke="#3b6997" stroke-width="1.3"/><rect x="161.52" y="194.8" width="38.6" height="8.4" rx="3.6" fill="#f0f7fd"/><text x="180.82" y="198.8" class="tt">Cluster31</text><text x="180.82" y="202.4" class="ts">ST30/CC30</text><text x="193.82" y="202.5" class="rs" fill="#f7cf1b">S</text><circle cx="166.69" cy="209.75" r="3.45" fill="#1f2b5e"/><text x="166.69" y="210.9" class="cn">447</text><circle cx="180.82" cy="209.75" r="3.45" fill="#1f2b5e"/><text x="180.82" y="210.9" class="cn">100</text><circle cx="194.95" cy="209.75" r="3.45" fill="#1f2b5e"/><text x="194.95" y="210.9" class="cn">153</text><rect x="161.52" y="215.15" width="38.6" height="6.1" rx="3" fill="#f0f7fd"/><path d="M164.72 220.4 L163.42 218 A1.5 1.5 0 1 1 166.02 218 Z" fill="none" stroke="#c9d9ea" stroke-width="0.5"/><text x="176.02" y="220.7" class="lt" fill="#c6bee6">B</text><text x="188.02" y="220.7" class="lt" fill="#b3dc9c">C</text><rect x="161.52" y="222.25" width="38.6" height="6.1" rx="3" fill="#f0f7fd"/><circle cx="164.72" cy="224.3" r="0.9" fill="none" stroke="#c9d9ea" stroke-width="0.5"/><path d="M163.02 227.5 Q164.72 225.1 166.42 227.5" fill="none" stroke="#c9d9ea" stroke-width="0.5"/><text x="176.02" y="227.8" class="lt" fill="#f5a53c">O</text><text x="188.02" y="227.8" class="lt" fill="#ef6f7b">R</text><rect x="210.98" y="192.9" width="42.6" height="37.3" rx="4.3" fill="#d7e6f6" stroke="#3b6997" stroke-width="1.3"/><rect x="212.98" y="194.8" width="38.6" height="8.4" rx="3.6" fill="#f0f7fd"/><text x="232.28" y="198.8" class="tt">Cluster32</text><text x="232.28" y="202.4" class="ts">ST7/CC7</text><text x="245.28" y="202.5" class="rs" fill="#f7cf1b">S</text><circle cx="218.15" cy="209.75" r="3.45" fill="#1f2b5e"/><text x="218.15" y="210.9" class="cn">484</text><circle cx="232.28" cy="209.75" r="3.45" fill="#1f2b5e"/><text x="232.28" y="210.9" class="cn">137</text><circle cx="246.41" cy="209.75" r="3.45" fill="#1f2b5e"/><text x="246.41" y="210.9" class="cn">190</text><rect x="212.98" y="215.15" width="38.6" height="6.1" rx="3" fill="#f0f7fd"/><path d="M216.18 220.4 L214.88 218 A1.5 1.5 0 1 1 217.48 218 Z" fill="none" stroke="#c9d9ea" stroke-width="0.5"/><text x="227.48" y="220.7" class="lt" fill="#f8c690">A</text><text x="239.48" y="220.7" class="lt" fill="#c6bee6">B</text><rect x="212.98" y="222.25" width="38.6" height="6.1" rx="3" fill="#f0f7fd"/><circle cx="216.18" cy="224.3" r="0.9" fill="none" stroke="#c9d9ea" stroke-width="0.5"/><path d="M214.48 227.5 Q216.18 225.1 217.88 227.5" fill="none" stroke="#c9d9ea" stroke-width="0.5"/><text x="224.48" y="227.8" class="lt" fill="#cba6e0">P</text><text x="233.48" y="227.8" class="lt" fill="#ef6f7b">R</text><text x="242.48" y="227.8" class="lt" fill="#f1d14b">Y</text><rect x="262.44" y="192.9" width="42.6" height="37.3" rx="4.3" fill="#d7e6f6" stroke="#3b6997" stroke-width="1.3"/><rect x="264.44" y="194.8" width="38.6" height="8.4" rx="3.6" fill="#f0f7fd"/><text x="283.74" y="198.8" class="tt">Cluster33</text><text x="283.74" y="202.4" class="ts">ST45/CC45</text><text x="296.74" y="202.5" class="rs" fill="#f7cf1b">S</text><circle cx="273.14" cy="209.75" r="3.45" fill="#1f2b5e"/><text x="273.14" y="210.9" class="cn">121</text><circle cx="294.34" cy="209.75" r="3.45" fill="#1f2b5e"/><text x="294.34" y="210.9" class="cn">174</text><rect x="264.44" y="215.15" width="38.6" height="6.1" rx="3" fill="#f0f7fd"/><path d="M267.64 220.4 L266.34 218 A1.5 1.5 0 1 1 268.94 218 Z" fill="none" stroke="#c9d9ea" stroke-width="0.5"/><text x="278.94" y="220.7" class="lt" fill="#c6bee6">B</text><text x="290.94" y="220.7" class="lt" fill="#b3dc9c">C</text><rect x="264.44" y="222.25" width="38.6" height="6.1" rx="3" fill="#f0f7fd"/><circle cx="267.64" cy="224.3" r="0.9" fill="none" stroke="#c9d9ea" stroke-width="0.5"/><path d="M265.94 227.5 Q267.64 225.1 269.34 227.5" fill="none" stroke="#c9d9ea" stroke-width="0.5"/><text x="278.94" y="227.8" class="lt" fill="#7dc2ef">B</text><text x="290.94" y="227.8" class="lt" fill="#ef6f7b">R</text><rect x="313.9" y="192.9" width="42.6" height="37.3" rx="4.3" fill="#f4abad" stroke="#e0797e" stroke-width="1.3"/><rect x="315.9" y="194.8" width="38.6" height="8.4" rx="3.6" fill="#fde9ea"/><text x="335.2" y="198.8" class="tt">Cluster34</text><text x="335.2" y="202.4" class="ts">ST5/CC5</text><text x="348.2" y="202.5" class="rs" fill="#f06aa8">R</text><circle cx="324.6" cy="209.75" r="3.45" fill="#f5a55c"/><text x="324.6" y="210.9" class="cn">158</text><circle cx="345.8" cy="209.75" r="3.45" fill="#1f2b5e"/><text x="345.8" y="210.9" class="cn">211</text><rect x="315.9" y="215.15" width="38.6" height="6.1" rx="3" fill="#fde9ea"/><path d="M319.1 220.4 L317.8 218 A1.5 1.5 0 1 1 320.4 218 Z" fill="none" stroke="#e8a0a8" stroke-width="0.5"/><text x="330.4" y="220.7" class="lt" fill="#5dbf9b">D</text><text x="342.4" y="220.7" class="lt" fill="#b9b9b9">G</text><rect x="315.9" y="222.25" width="38.6" height="6.1" rx="3" fill="#fde9ea"/><circle cx="319.1" cy="224.3" r="0.9" fill="none" stroke="#e8a0a8" stroke-width="0.5"/><path d="M317.4 227.5 Q319.1 225.1 320.8 227.5" fill="none" stroke="#e8a0a8" stroke-width="0.5"/><text x="330.4" y="227.8" class="lt" fill="#f5a53c">O</text><text x="342.4" y="227.8" class="lt" fill="#cba6e0">P</text><rect x="5.14" y="234.5" width="42.6" height="37.3" rx="4.3" fill="#d7e6f6" stroke="#3b6997" stroke-width="1.3"/><rect x="7.14" y="236.4" width="38.6" height="8.4" rx="3.6" fill="#f0f7fd"/><text x="26.44" y="240.4" class="tt">Cluster35</text><text x="26.44" y="244" class="ts">ST8/CC8</text><text x="39.44" y="244.1" class="rs" fill="#f7cf1b">S</text><circle cx="15.84" cy="251.35" r="3.45" fill="#1f2b5e"/><text x="15.84" y="252.5" class="cn">195</text><circle cx="37.04" cy="251.35" r="3.45" fill="#1f2b5e"/><text x="37.04" y="252.5" class="cn">248</text><rect x="7.14" y="256.75" width="38.6" height="6.1" rx="3" fill="#f0f7fd"/><path d="M10.34 262 L9.04 259.6 A1.5 1.5 0 1 1 11.64 259.6 Z" fill="none" stroke="#c9d9ea" stroke-width="0.5"/><text x="27.64" y="262.3" class="lt" fill="#c6bee6">B</text><rect x="7.14" y="263.85" width="38.6" height="6.1" rx="3" fill="#f0f7fd"/><circle cx="10.34" cy="265.9" r="0.9" fill="none" stroke="#c9d9ea" stroke-width="0.5"/><path d="M8.64 269.1 Q10.34 266.7 12.04 269.1" fill="none" stroke="#c9d9ea" stroke-width="0.5"/><text x="21.64" y="269.4" class="lt" fill="#7dc2ef">B</text><text x="33.64" y="269.4" class="lt" fill="#ef6f7b">R</text><rect x="56.6" y="234.5" width="42.6" height="37.3" rx="4.3" fill="#d7e6f6" stroke="#3b6997" stroke-width="1.3"/><rect x="58.6" y="236.4" width="38.6" height="8.4" rx="3.6" fill="#f0f7fd"/><text x="77.9" y="240.4" class="tt">Cluster36</text><text x="77.9" y="244" class="ts">ST8/CC8</text><text x="90.9" y="244.1" class="rs" fill="#f7cf1b">S</text><circle cx="67.3" cy="251.35" r="3.45" fill="#1f2b5e"/><text x="67.3" y="252.5" class="cn">232</text><circle cx="88.5" cy="251.35" r="3.45" fill="#1f2b5e"/><text x="88.5" y="252.5" class="cn">285</text><rect x="58.6" y="256.75" width="38.6" height="6.1" rx="3" fill="#f0f7fd"/><path d="M61.8 262 L60.5 259.6 A1.5 1.5 0 1 1 63.1 259.6 Z" fill="none" stroke="#c9d9ea" stroke-width="0.5"/><text x="79.1" y="262.3" class="lt" fill="#b3dc9c">C</text><rect x="58.6" y="263.85" width="38.6" height="6.1" rx="3" fill="#f0f7fd"/><circle cx="61.8" cy="265.9" r="0.9" fill="none" stroke="#c9d9ea" stroke-width="0.5"/><path d="M60.1 269.1 Q61.8 266.7 63.5 269.1" fill="none" stroke="#c9d9ea" stroke-width="0.5"/><text x="79.1" y="269.4" class="lt" fill="#7dc2ef">B</text><rect x="108.06" y="234.5" width="42.6" height="37.3" rx="4.3" fill="#f4abad" stroke="#e0797e" stroke-width="1.3"/><rect x="110.06" y="236.4" width="38.6" height="8.4" rx="3.6" fill="#fde9ea"/><text x="129.36" y="240.4" class="tt">Cluster37</text><text x="129.36" y="244" class="ts">ST15/CC15</text><text x="142.36" y="244.1" class="rs" fill="#f7cf1b">S</text><circle cx="118.76" cy="251.35" r="3.45" fill="#f5a55c"/><text x="118.76" y="252.5" class="cn">269</text><circle cx="139.96" cy="251.35" r="3.45" fill="#1f2b5e"/><text x="139.96" y="252.5" class="cn">322</text><rect x="110.06" y="256.75" width="38.6" height="6.1" rx="3" fill="#fde9ea"/><path d="M113.26 262 L111.96 259.6 A1.5 1.5 0 1 1 114.56 259.6 Z" fill="none" stroke="#e8a0a8" stroke-width="0.5"/><text x="130.56" y="262.3" class="lt" fill="#f8c690">A</text><rect x="110.06" y="263.85" width="38.6" height="6.1" rx="3" fill="#fde9ea"/><circle cx="113.26" cy="265.9" r="0.9" fill="none" stroke="#e8a0a8" stroke-width="0.5"/><path d="M111.56 269.1 Q113.26 266.7 114.96 269.1" fill="none" stroke="#e8a0a8" stroke-width="0.5"/><text x="121.56" y="269.4" class="lt" fill="#7dc2ef">B</text><text x="130.56" y="269.4" class="lt" fill="#ef6f7b">R</text><text x="139.56" y="269.4" class="lt" fill="#f1d14b">Y</text><rect x="159.52" y="234.5" width="42.6" height="37.3" rx="4.3" fill="#d7e6f6" stroke="#3b6997" stroke-width="1.3"/><rect x="161.52" y="236.4" width="38.6" height="8.4" rx="3.6" fill="#f0f7fd"/><text x="180.82" y="240.4" class="tt">Cluster38</text><text x="180.82" y="244" class="ts">ST15/CC15</text><text x="193.82" y="244.1" class="rs" fill="#f7cf1b">S</text><circle cx="170.22" cy="251.35" r="3.45" fill="#1f2b5e"/><text x="170.22" y="252.5" class="cn">306</text><circle cx="191.42" cy="251.35" r="3.45" fill="#1f2b5e"/><text x="191.42" y="252.5" class="cn">359</text><rect x="161.52" y="256.75" width="38.6" height="6.1" rx="3" fill="#f0f7fd"/><path d="M164.72 262 L163.42 259.6 A1.5 1.5 0 1 1 166.02 259.6 Z" fill="none" stroke="#c9d9ea" stroke-width="0.5"/><text x="176.02" y="262.3" class="lt" fill="#f8c690">A</text><text x="188.02" y="262.3" class="lt" fill="#b9b9b9">G</text><rect x="161.52" y="263.85" width="38.6" height="6.1" rx="3" fill="#f0f7fd"/><circle cx="164.72" cy="265.9" r="0.9" fill="none" stroke="#c9d9ea" stroke-width="0.5"/><path d="M163.02 269.1 Q164.72 266.7 166.42 269.1" fill="none" stroke="#c9d9ea" stroke-width="0.5"/><text x="176.02" y="269.4" class="lt" fill="#f5a53c">O</text><text x="188.02" y="269.4" class="lt" fill="#f1d14b">Y</text><rect x="210.98" y="234.5" width="42.6" height="37.3" rx="4.3" fill="#d7e6f6" stroke="#3b6997" stroke-width="1.3"/><rect x="212.98" y="236.4" width="38.6" height="8.4" rx="3.6" fill="#f0f7fd"/><text x="232.28" y="240.4" class="tt">Cluster39</text><text x="232.28" y="244" class="ts">ST8/CC8</text><text x="245.28" y="244.1" class="rs" fill="#f06aa8">R</text><circle cx="221.68" cy="251.35" r="3.45" fill="#1f2b5e"/><text x="221.68" y="252.5" class="cn">343</text><circle cx="242.88" cy="251.35" r="3.45" fill="#1f2b5e"/><text x="242.88" y="252.5" class="cn">396</text><rect x="212.98" y="256.75" width="38.6" height="6.1" rx="3" fill="#f0f7fd"/><path d="M216.18 262 L214.88 259.6 A1.5 1.5 0 1 1 217.48 259.6 Z" fill="none" stroke="#c9d9ea" stroke-width="0.5"/><text x="227.48" y="262.3" class="lt" fill="#f8c690">A</text><text x="239.48" y="262.3" class="lt" fill="#9dd3f1">H</text><rect x="212.98" y="263.85" width="38.6" height="6.1" rx="3" fill="#f0f7fd"/><circle cx="216.18" cy="265.9" r="0.9" fill="none" stroke="#c9d9ea" stroke-width="0.5"/><path d="M214.48 269.1 Q216.18 266.7 217.88 269.1" fill="none" stroke="#c9d9ea" stroke-width="0.5"/><text x="227.48" y="269.4" class="lt" fill="#cba6e0">P</text><text x="239.48" y="269.4" class="lt" fill="#ef6f7b">R</text><rect x="262.44" y="234.5" width="42.6" height="37.3" rx="4.3" fill="#d7e6f6" stroke="#3b6997" stroke-width="1.3"/><rect x="264.44" y="236.4" width="38.6" height="8.4" rx="3.6" fill="#f0f7fd"/><text x="283.74" y="240.4" class="tt">Cluster41</text><text x="283.74" y="244" class="ts">ST8/CC8</text><text x="296.74" y="244.1" class="rs" fill="#f06aa8">R</text><circle cx="273.14" cy="251.35" r="3.45" fill="#1f2b5e"/><text x="273.14" y="252.5" class="cn">417</text><circle cx="294.34" cy="251.35" r="3.45" fill="#1f2b5e"/><text x="294.34" y="252.5" class="cn">470</text><rect x="264.44" y="256.75" width="38.6" height="6.1" rx="3" fill="#f0f7fd"/><path d="M267.64 262 L266.34 259.6 A1.5 1.5 0 1 1 268.94 259.6 Z" fill="none" stroke="#c9d9ea" stroke-width="0.5"/><text x="284.94" y="262.3" class="lt" fill="#dcc37f">F</text><rect x="264.44" y="263.85" width="38.6" height="6.1" rx="3" fill="#f0f7fd"/><circle cx="267.64" cy="265.9" r="0.9" fill="none" stroke="#c9d9ea" stroke-width="0.5"/><path d="M265.94 269.1 Q267.64 266.7 269.34 269.1" fill="none" stroke="#c9d9ea" stroke-width="0.5"/><text x="278.94" y="269.4" class="lt" fill="#92d07a">G</text><text x="290.94" y="269.4" class="lt" fill="#f5a53c">O</text><rect x="313.9" y="234.5" width="42.6" height="37.3" rx="4.3" fill="#d7e6f6" stroke="#3b6997" stroke-width="1.3"/><rect x="315.9" y="236.4" width="38.6" height="8.4" rx="3.6" fill="#f0f7fd"/><text x="335.2" y="240.4" class="tt">Cluster42</text><text x="335.2" y="244" class="ts">ST5/CC5</text><text x="348.2" y="244.1" class="rs" fill="#f7cf1b">S</text><circle cx="324.6" cy="251.35" r="3.45" fill="#1f2b5e"/><text x="324.6" y="252.5" class="cn">454</text><circle cx="345.8" cy="251.35" r="3.45" fill="#1f2b5e"/><text x="345.8" y="252.5" class="cn">107</text><rect x="315.9" y="256.75" width="38.6" height="6.1" rx="3" fill="#f0f7fd"/><path d="M319.1 262 L317.8 259.6 A1.5 1.5 0 1 1 320.4 259.6 Z" fill="none" stroke="#c9d9ea" stroke-width="0.5"/><text x="330.4" y="262.3" class="lt" fill="#f8c690">A</text><text x="342.4" y="262.3" class="lt" fill="#c6bee6">B</text><rect x="315.9" y="263.85" width="38.6" height="6.1" rx="3" fill="#f0f7fd"/><circle cx="319.1" cy="265.9" r="0.9" fill="none" stroke="#c9d9ea" stroke-width="0.5"/><path d="M317.4 269.1 Q319.1 266.7 320.8 269.1" fill="none" stroke="#c9d9ea" stroke-width="0.5"/><text x="330.4" y="269.4" class="lt" fill="#cba6e0">P</text><text x="342.4" y="269.4" class="lt" fill="#ef6f7b">R</text><rect x="5.14" y="276.1" width="42.6" height="37.3" rx="4.3" fill="#d7e6f6" stroke="#3b6997" stroke-width="1.3"/><rect x="7.14" y="278" width="38.6" height="8.4" rx="3.6" fill="#f0f7fd"/><text x="26.44" y="282" class="tt">Cluster43</text><text x="26.44" y="285.6" class="ts">~/~</text><text x="39.44" y="285.7" class="rs" fill="#f7cf1b">S</text><circle cx="15.84" cy="292.95" r="3.45" fill="#1f2b5e"/><text x="15.84" y="294.1" class="cn">491</text><circle cx="37.04" cy="292.95" r="3.45" fill="#1f2b5e"/><text x="37.04" y="294.1" class="cn">144</text><rect x="7.14" y="298.35" width="38.6" height="6.1" rx="3" fill="#f0f7fd"/><path d="M10.34 303.6 L9.04 301.2 A1.5 1.5 0 1 1 11.64 301.2 Z" fill="none" stroke="#c9d9ea" stroke-width="0.5"/><text x="21.64" y="303.9" class="lt" fill="#c6bee6">B</text><text x="33.64" y="303.9" class="lt" fill="#dcc37f">F</text><rect x="7.14" y="305.45" width="38.6" height="6.1" rx="3" fill="#f0f7fd"/><circle cx="10.34" cy="307.5" r="0.9" fill="none" stroke="#c9d9ea" stroke-width="0.5"/><path d="M8.64 310.7 Q10.34 308.3 12.04 310.7" fill="none" stroke="#c9d9ea" stroke-width="0.5"/><text x="18.64" y="311" class="lt" fill="#92d07a">G</text><text x="27.64" y="311" class="lt" fill="#ef6f7b">R</text><text x="36.64" y="311" class="lt" fill="#f1d14b">Y</text><rect x="56.6" y="276.1" width="42.6" height="37.3" rx="4.3" fill="#d7e6f6" stroke="#3b6997" stroke-width="1.3"/><rect x="58.6" y="278" width="38.6" height="8.4" rx="3.6" fill="#f0f7fd"/><text x="77.9" y="282" class="tt">Cluster44</text><text x="77.9" y="285.6" class="ts">ST5/CC5</text><text x="90.9" y="285.7" class="rs" fill="#f7cf1b">S</text><circle cx="67.3" cy="292.95" r="3.45" fill="#1f2b5e"/><text x="67.3" y="294.1" class="cn">128</text><circle cx="88.5" cy="292.95" r="3.45" fill="#1f2b5e"/><text x="88.5" y="294.1" class="cn">181</text><rect x="58.6" y="298.35" width="38.6" height="6.1" rx="3" fill="#f0f7fd"/><path d="M61.8 303.6 L60.5 301.2 A1.5 1.5 0 1 1 63.1 301.2 Z" fill="none" stroke="#c9d9ea" stroke-width="0.5"/><text x="79.1" y="303.9" class="lt" fill="#c6bee6">B</text><rect x="58.6" y="305.45" width="38.6" height="6.1" rx="3" fill="#f0f7fd"/><circle cx="61.8" cy="307.5" r="0.9" fill="none" stroke="#c9d9ea" stroke-width="0.5"/><path d="M60.1 310.7 Q61.8 308.3 63.5 310.7" fill="none" stroke="#c9d9ea" stroke-width="0.5"/><text x="73.1" y="311" class="lt" fill="#ef6f7b">R</text><text x="85.1" y="311" class="lt" fill="#f1d14b">Y</text><rect x="108.06" y="276.1" width="42.6" height="37.3" rx="4.3" fill="#d7e6f6" stroke="#3b6997" stroke-width="1.3"/><rect x="110.06" y="278" width="38.6" height="8.4" rx="3.6" fill="#f0f7fd"/><text x="129.36" y="282" class="tt">Cluster45</text><text x="129.36" y="285.6" class="ts">ST5/CC5</text><text x="142.36" y="285.7" class="rs" fill="#f7cf1b">S</text><circle cx="118.76" cy="292.95" r="3.45" fill="#1f2b5e"/><text x="118.76" y="294.1" class="cn">165</text><circle cx="139.96" cy="292.95" r="3.45" fill="#1f2b5e"/><text x="139.96" y="294.1" class="cn">218</text><rect x="110.06" y="298.35" width="38.6" height="6.1" rx="3" fill="#f0f7fd"/><path d="M113.26 303.6 L111.96 301.2 A1.5 1.5 0 1 1 114.56 301.2 Z" fill="none" stroke="#c9d9ea" stroke-width="0.5"/><text x="130.56" y="303.9" class="lt" fill="#5dbf9b">D</text><rect x="110.06" y="305.45" width="38.6" height="6.1" rx="3" fill="#f0f7fd"/><circle cx="113.26" cy="307.5" r="0.9" fill="none" stroke="#c9d9ea" stroke-width="0.5"/><path d="M111.56 310.7 Q113.26 308.3 114.96 310.7" fill="none" stroke="#c9d9ea" stroke-width="0.5"/><text x="130.56" y="311" class="lt" fill="#92d07a">G</text><rect x="159.52" y="276.1" width="42.6" height="37.3" rx="4.3" fill="#d7e6f6" stroke="#3b6997" stroke-width="1.3"/><rect x="161.52" y="278" width="38.6" height="8.4" rx="3.6" fill="#f0f7fd"/><text x="180.82" y="282" class="tt">Cluster46</text><text x="180.82" y="285.6" class="ts">ST30/CC30</text><text x="193.82" y="285.7" class="rs" fill="#f06aa8">R</text><circle cx="170.22" cy="292.95" r="3.45" fill="#1f2b5e"/><text x="170.22" y="294.1" class="cn">202</text><circle cx="191.42" cy="292.95" r="3.45" fill="#1f2b5e"/><text x="191.42" y="294.1" class="cn">255</text><rect x="161.52" y="298.35" width="38.6" height="6.1" rx="3" fill="#f0f7fd"/><path d="M164.72 303.6 L163.42 301.2 A1.5 1.5 0 1 1 166.02 301.2 Z" fill="none" stroke="#c9d9ea" stroke-width="0.5"/><text x="182.02" y="303.9" class="lt" fill="#9dd3f1">H</text><rect x="161.52" y="305.45" width="38.6" height="6.1" rx="3" fill="#f0f7fd"/><circle cx="164.72" cy="307.5" r="0.9" fill="none" stroke="#c9d9ea" stroke-width="0.5"/><path d="M163.02 310.7 Q164.72 308.3 166.42 310.7" fill="none" stroke="#c9d9ea" stroke-width="0.5"/><text x="176.02" y="311" class="lt" fill="#7dc2ef">B</text><text x="188.02" y="311" class="lt" fill="#f1d14b">Y</text><rect x="210.98" y="276.1" width="42.6" height="37.3" rx="4.3" fill="#d7e6f6" stroke="#3b6997" stroke-width="1.3"/><rect x="212.98" y="278" width="38.6" height="8.4" rx="3.6" fill="#f0f7fd"/><text x="232.28" y="282" class="tt">Cluster47</text><text x="232.28" y="285.6" class="ts">ST7/~</text><text x="245.28" y="285.7" class="rs" fill="#f7cf1b">S</text><circle cx="221.68" cy="292.95" r="3.45" fill="#1f2b5e"/><text x="221.68" y="294.1" class="cn">239</text><circle cx="242.88" cy="292.95" r="3.45" fill="#1f2b5e"/><text x="242.88" y="294.1" class="cn">292</text><rect x="212.98" y="298.35" width="38.6" height="6.1" rx="3" fill="#f0f7fd"/><path d="M216.18 303.6 L214.88 301.2 A1.5 1.5 0 1 1 217.48 301.2 Z" fill="none" stroke="#c9d9ea" stroke-width="0.5"/><text x="233.48" y="303.9" class="lt" fill="#f8c690">A</text><rect x="212.98" y="305.45" width="38.6" height="6.1" rx="3" fill="#f0f7fd"/><circle cx="216.18" cy="307.5" r="0.9" fill="none" stroke="#c9d9ea" stroke-width="0.5"/><path d="M214.48 310.7 Q216.18 308.3 217.88 310.7" fill="none" stroke="#c9d9ea" stroke-width="0.5"/><text x="227.48" y="311" class="lt" fill="#cba6e0">P</text><text x="239.48" y="311" class="lt" fill="#ef6f7b">R</text><rect x="262.44" y="276.1" width="42.6" height="37.3" rx="4.3" fill="#d7e6f6" stroke="#3b6997" stroke-width="1.3"/><rect x="264.44" y="278" width="38.6" height="8.4" rx="3.6" fill="#f0f7fd"/><text x="283.74" y="282" class="tt">Cluster48</text><text x="283.74" y="285.6" class="ts">ST1/CC1</text><text x="296.74" y="285.7" class="rs" fill="#f7cf1b">S</text><circle cx="273.14" cy="292.95" r="3.45" fill="#1f2b5e"/><text x="273.14" y="294.1" class="cn">276</text><circle cx="294.34" cy="292.95" r="3.45" fill="#1f2b5e"/><text x="294.34" y="294.1" class="cn">329</text><rect x="264.44" y="298.35" width="38.6" height="6.1" rx="3" fill="#f0f7fd"/><path d="M267.64 303.6 L266.34 301.2 A1.5 1.5 0 1 1 268.94 301.2 Z" fill="none" stroke="#c9d9ea" stroke-width="0.5"/><text x="278.94" y="303.9" class="lt" fill="#b9b9b9">G</text><text x="290.94" y="303.9" class="lt" fill="#9dd3f1">H</text><rect x="264.44" y="305.45" width="38.6" height="6.1" rx="3" fill="#f0f7fd"/><circle cx="267.64" cy="307.5" r="0.9" fill="none" stroke="#c9d9ea" stroke-width="0.5"/><path d="M265.94 310.7 Q267.64 308.3 269.34 310.7" fill="none" stroke="#c9d9ea" stroke-width="0.5"/><text x="278.94" y="311" class="lt" fill="#7dc2ef">B</text><text x="290.94" y="311" class="lt" fill="#cba6e0">P</text><rect x="313.9" y="276.1" width="42.6" height="37.3" rx="4.3" fill="#d7e6f6" stroke="#3b6997" stroke-width="1.3"/><rect x="315.9" y="278" width="38.6" height="8.4" rx="3.6" fill="#f0f7fd"/><text x="335.2" y="282" class="tt">Cluster49</text><text x="335.2" y="285.6" class="ts">ST15/CC15</text><text x="348.2" y="285.7" class="rs" fill="#f7cf1b">S</text><circle cx="324.6" cy="292.95" r="3.45" fill="#1f2b5e"/><text x="324.6" y="294.1" class="cn">313</text><circle cx="345.8" cy="292.95" r="3.45" fill="#1f2b5e"/><text x="345.8" y="294.1" class="cn">366</text><rect x="315.9" y="298.35" width="38.6" height="6.1" rx="3" fill="#f0f7fd"/><path d="M319.1 303.6 L317.8 301.2 A1.5 1.5 0 1 1 320.4 301.2 Z" fill="none" stroke="#c9d9ea" stroke-width="0.5"/><text x="330.4" y="303.9" class="lt" fill="#c6bee6">B</text><text x="342.4" y="303.9" class="lt" fill="#b9b9b9">G</text><rect x="315.9" y="305.45" width="38.6" height="6.1" rx="3" fill="#f0f7fd"/><circle cx="319.1" cy="307.5" r="0.9" fill="none" stroke="#c9d9ea" stroke-width="0.5"/><path d="M317.4 310.7 Q319.1 308.3 320.8 310.7" fill="none" stroke="#c9d9ea" stroke-width="0.5"/><text x="330.4" y="311" class="lt" fill="#f5a53c">O</text><text x="342.4" y="311" class="lt" fill="#f1d14b">Y</text><rect x="5.14" y="317.7" width="42.6" height="37.3" rx="4.3" fill="#d7e6f6" stroke="#3b6997" stroke-width="1.3"/><rect x="7.14" y="319.6" width="38.6" height="8.4" rx="3.6" fill="#f0f7fd"/><text x="26.44" y="323.6" class="tt">Cluster50</text><text x="26.44" y="327.2" class="ts">ST5/CC5</text><text x="39.44" y="327.3" class="rs" fill="#f7cf1b">S</text><circle cx="15.84" cy="334.55" r="3.45" fill="#1f2b5e"/><text x="15.84" y="335.7" class="cn">350</text><circle cx="37.04" cy="334.55" r="3.45" fill="#1f2b5e"/><text x="37.04" y="335.7" class="cn">403</text><rect x="7.14" y="339.95" width="38.6" height="6.1" rx="3" fill="#f0f7fd"/><path d="M10.34 345.2 L9.04 342.8 A1.5 1.5 0 1 1 11.64 342.8 Z" fill="none" stroke="#c9d9ea" stroke-width="0.5"/><text x="27.64" y="345.5" class="lt" fill="#dcc37f">F</text><rect x="7.14" y="347.05" width="38.6" height="6.1" rx="3" fill="#f0f7fd"/><circle cx="10.34" cy="349.1" r="0.9" fill="none" stroke="#c9d9ea" stroke-width="0.5"/><path d="M8.64 352.3 Q10.34 349.9 12.04 352.3" fill="none" stroke="#c9d9ea" stroke-width="0.5"/><text x="27.64" y="352.6" class="lt" fill="#92d07a">G</text><rect x="56.6" y="317.7" width="42.6" height="37.3" rx="4.3" fill="#f4abad" stroke="#e0797e" stroke-width="1.3"/><rect x="58.6" y="319.6" width="38.6" height="8.4" rx="3.6" fill="#fde9ea"/><text x="77.9" y="323.6" class="tt">Cluster51</text><text x="77.9" y="327.2" class="ts">ST5/CC5</text><text x="90.9" y="327.3" class="rs" fill="#f7cf1b">S</text><circle cx="67.3" cy="334.55" r="3.45" fill="#f5a55c"/><text x="67.3" y="335.7" class="cn">387</text><circle cx="88.5" cy="334.55" r="3.45" fill="#f5a55c"/><text x="88.5" y="335.7" class="cn">440</text><rect x="58.6" y="339.95" width="38.6" height="6.1" rx="3" fill="#fde9ea"/><path d="M61.8 345.2 L60.5 342.8 A1.5 1.5 0 1 1 63.1 342.8 Z" fill="none" stroke="#e8a0a8" stroke-width="0.5"/><text x="79.1" y="345.5" class="lt" fill="#dcc37f">F</text><rect x="58.6" y="347.05" width="38.6" height="6.1" rx="3" fill="#fde9ea"/><circle cx="61.8" cy="349.1" r="0.9" fill="none" stroke="#e8a0a8" stroke-width="0.5"/><path d="M60.1 352.3 Q61.8 349.9 63.5 352.3" fill="none" stroke="#e8a0a8" stroke-width="0.5"/><text x="79.1" y="352.6" class="lt" fill="#92d07a">G</text><rect x="108.06" y="317.7" width="42.6" height="37.3" rx="4.3" fill="#d7e6f6" stroke="#3b6997" stroke-width="1.3"/><rect x="110.06" y="319.6" width="38.6" height="8.4" rx="3.6" fill="#f0f7fd"/><text x="129.36" y="323.6" class="tt">Cluster52</text><text x="129.36" y="327.2" class="ts">ST5/CC5</text><text x="142.36" y="327.3" class="rs" fill="#f7cf1b">S</text><circle cx="118.76" cy="334.55" r="3.45" fill="#1f2b5e"/><text x="118.76" y="335.7" class="cn">424</text><circle cx="139.96" cy="334.55" r="3.45" fill="#1f2b5e"/><text x="139.96" y="335.7" class="cn">477</text><rect x="110.06" y="339.95" width="38.6" height="6.1" rx="3" fill="#f0f7fd"/><path d="M113.26 345.2 L111.96 342.8 A1.5 1.5 0 1 1 114.56 342.8 Z" fill="none" stroke="#c9d9ea" stroke-width="0.5"/><text x="124.56" y="345.5" class="lt" fill="#5dbf9b">D</text><text x="136.56" y="345.5" class="lt" fill="#dcc37f">F</text><rect x="110.06" y="347.05" width="38.6" height="6.1" rx="3" fill="#f0f7fd"/><circle cx="113.26" cy="349.1" r="0.9" fill="none" stroke="#c9d9ea" stroke-width="0.5"/><path d="M111.56 352.3 Q113.26 349.9 114.96 352.3" fill="none" stroke="#c9d9ea" stroke-width="0.5"/><text x="130.56" y="352.6" class="lt" fill="#92d07a">G</text><rect x="159.52" y="317.7" width="42.6" height="37.3" rx="4.3" fill="#d7e6f6" stroke="#3b6997" stroke-width="1.3"/><rect x="161.52" y="319.6" width="38.6" height="8.4" rx="3.6" fill="#f0f7fd"/><text x="180.82" y="323.6" class="tt">Cluster53</text><text x="180.82" y="327.2" class="ts">ST5/CC5</text><text x="193.82" y="327.3" class="rs" fill="#f7cf1b">S</text><circle cx="170.22" cy="334.55" r="3.45" fill="#1f2b5e"/><text x="170.22" y="335.7" class="cn">461</text><circle cx="191.42" cy="334.55" r="3.45" fill="#1f2b5e"/><text x="191.42" y="335.7" class="cn">114</text><rect x="161.52" y="339.95" width="38.6" height="6.1" rx="3" fill="#f0f7fd"/><path d="M164.72 345.2 L163.42 342.8 A1.5 1.5 0 1 1 166.02 342.8 Z" fill="none" stroke="#c9d9ea" stroke-width="0.5"/><text x="182.02" y="345.5" class="lt" fill="#f8c690">A</text><rect x="161.52" y="347.05" width="38.6" height="6.1" rx="3" fill="#f0f7fd"/><circle cx="164.72" cy="349.1" r="0.9" fill="none" stroke="#c9d9ea" stroke-width="0.5"/><path d="M163.02 352.3 Q164.72 349.9 166.42 352.3" fill="none" stroke="#c9d9ea" stroke-width="0.5"/><text x="182.02" y="352.6" class="lt" fill="#7dc2ef">B</text><rect x="210.98" y="317.7" width="42.6" height="37.3" rx="4.3" fill="#d7e6f6" stroke="#3b6997" stroke-width="1.3"/><rect x="212.98" y="319.6" width="38.6" height="8.4" rx="3.6" fill="#f0f7fd"/><text x="232.28" y="323.6" class="tt">Cluster54</text><text x="232.28" y="327.2" class="ts">ST5/CC5</text><text x="245.28" y="327.3" class="rs" fill="#f7cf1b">S</text><circle cx="221.68" cy="334.55" r="3.45" fill="#1f2b5e"/><text x="221.68" y="335.7" class="cn">498</text><circle cx="242.88" cy="334.55" r="3.45" fill="#1f2b5e"/><text x="242.88" y="335.7" class="cn">151</text><rect x="212.98" y="339.95" width="38.6" height="6.1" rx="3" fill="#f0f7fd"/><path d="M216.18 345.2 L214.88 342.8 A1.5 1.5 0 1 1 217.48 342.8 Z" fill="none" stroke="#c9d9ea" stroke-width="0.5"/><text x="233.48" y="345.5" class="lt" fill="#5dbf9b">D</text><rect x="212.98" y="347.05" width="38.6" height="6.1" rx="3" fill="#f0f7fd"/><circle cx="216.18" cy="349.1" r="0.9" fill="none" stroke="#c9d9ea" stroke-width="0.5"/><path d="M214.48 352.3 Q216.18 349.9 217.88 352.3" fill="none" stroke="#c9d9ea" stroke-width="0.5"/><text x="227.48" y="352.6" class="lt" fill="#92d07a">G</text><text x="239.48" y="352.6" class="lt" fill="#f5a53c">O</text><rect x="262.44" y="317.7" width="42.6" height="37.3" rx="4.3" fill="#d7e6f6" stroke="#3b6997" stroke-width="1.3"/><rect x="264.44" y="319.6" width="38.6" height="8.4" rx="3.6" fill="#f0f7fd"/><text x="283.74" y="323.6" class="tt">Cluster55</text><text x="283.74" y="327.2" class="ts">ST398/CC398</text><text x="296.74" y="327.3" class="rs" fill="#f7cf1b">S</text><circle cx="273.14" cy="334.55" r="3.45" fill="#1f2b5e"/><text x="273.14" y="335.7" class="cn">135</text><circle cx="294.34" cy="334.55" r="3.45" fill="#1f2b5e"/><text x="294.34" y="335.7" class="cn">188</text><rect x="264.44" y="339.95" width="38.6" height="6.1" rx="3" fill="#f0f7fd"/><path d="M267.64 345.2 L266.34 342.8 A1.5 1.5 0 1 1 268.94 342.8 Z" fill="none" stroke="#c9d9ea" stroke-width="0.5"/><text x="278.94" y="345.5" class="lt" fill="#f8c690">A</text><text x="290.94" y="345.5" class="lt" fill="#c6bee6">B</text><rect x="264.44" y="347.05" width="38.6" height="6.1" rx="3" fill="#f0f7fd"/><circle cx="267.64" cy="349.1" r="0.9" fill="none" stroke="#c9d9ea" stroke-width="0.5"/><path d="M265.94 352.3 Q267.64 349.9 269.34 352.3" fill="none" stroke="#c9d9ea" stroke-width="0.5"/><text x="278.94" y="352.6" class="lt" fill="#7dc2ef">B</text><text x="290.94" y="352.6" class="lt" fill="#f1d14b">Y</text><rect x="313.9" y="317.7" width="42.6" height="37.3" rx="4.3" fill="#d7e6f6" stroke="#3b6997" stroke-width="1.3"/><rect x="315.9" y="319.6" width="38.6" height="8.4" rx="3.6" fill="#f0f7fd"/><text x="335.2" y="323.6" class="tt">Cluster56</text><text x="335.2" y="327.2" class="ts">ST398/CC398</text><text x="348.2" y="327.3" class="rs" fill="#f7cf1b">S</text><circle cx="324.6" cy="334.55" r="3.45" fill="#1f2b5e"/><text x="324.6" y="335.7" class="cn">172</text><circle cx="345.8" cy="334.55" r="3.45" fill="#1f2b5e"/><text x="345.8" y="335.7" class="cn">225</text><rect x="315.9" y="339.95" width="38.6" height="6.1" rx="3" fill="#f0f7fd"/><path d="M319.1 345.2 L317.8 342.8 A1.5 1.5 0 1 1 320.4 342.8 Z" fill="none" stroke="#c9d9ea" stroke-width="0.5"/><text x="330.4" y="345.5" class="lt" fill="#b9b9b9">G</text><text x="342.4" y="345.5" class="lt" fill="#9dd3f1">H</text><rect x="315.9" y="347.05" width="38.6" height="6.1" rx="3" fill="#f0f7fd"/><circle cx="319.1" cy="349.1" r="0.9" fill="none" stroke="#c9d9ea" stroke-width="0.5"/><path d="M317.4 352.3 Q319.1 349.9 320.8 352.3" fill="none" stroke="#c9d9ea" stroke-width="0.5"/><text x="336.4" y="352.6" class="lt" fill="#cba6e0">P</text><rect x="5.14" y="359.2" width="42.6" height="37.3" rx="4.3" fill="#d7e6f6" stroke="#3b6997" stroke-width="1.3"/><rect x="7.14" y="361.1" width="38.6" height="8.4" rx="3.6" fill="#f0f7fd"/><text x="26.44" y="365.1" class="tt">Cluster57</text><text x="26.44" y="368.7" class="ts">~/~</text><text x="39.44" y="368.8" class="rs" fill="#f7cf1b">S</text><circle cx="15.84" cy="376.05" r="3.45" fill="#1f2b5e"/><text x="15.84" y="377.2" class="cn">209</text><circle cx="37.04" cy="376.05" r="3.45" fill="#1f2b5e"/><text x="37.04" y="377.2" class="cn">262</text><rect x="7.14" y="381.45" width="38.6" height="6.1" rx="3" fill="#f0f7fd"/><path d="M10.34 386.7 L9.04 384.3 A1.5 1.5 0 1 1 11.64 384.3 Z" fill="none" stroke="#c9d9ea" stroke-width="0.5"/><text x="21.64" y="387" class="lt" fill="#c6bee6">B</text><text x="33.64" y="387" class="lt" fill="#b3dc9c">C</text><rect x="7.14" y="388.55" width="38.6" height="6.1" rx="3" fill="#f0f7fd"/><circle cx="10.34" cy="390.6" r="0.9" fill="none" stroke="#c9d9ea" stroke-width="0.5"/><path d="M8.64 393.8 Q10.34 391.4 12.04 393.8" fill="none" stroke="#c9d9ea" stroke-width="0.5"/><text x="21.64" y="394.1" class="lt" fill="#7dc2ef">B</text><text x="33.64" y="394.1" class="lt" fill="#ef6f7b">R</text><rect x="56.6" y="359.2" width="42.6" height="37.3" rx="4.3" fill="#f4abad" stroke="#e0797e" stroke-width="1.3"/><rect x="58.6" y="361.1" width="38.6" height="8.4" rx="3.6" fill="#fde9ea"/><text x="77.9" y="365.1" class="tt">Cluster58</text><text x="77.9" y="368.7" class="ts">ST398/CC398</text><text x="90.9" y="368.8" class="rs" fill="#f7cf1b">S</text><circle cx="63.77" cy="376.05" r="3.45" fill="#9c1d26"/><text x="63.77" y="377.2" class="cn">246</text><circle cx="77.9" cy="376.05" r="3.45" fill="#9c1d26"/><text x="77.9" y="377.2" class="cn">299</text><rect x="89.43" y="373.45" width="5.2" height="5.2" fill="#c9c1b9" transform="rotate(45 92.03 376.05)"/><rect x="58.6" y="381.45" width="38.6" height="6.1" rx="3" fill="#fde9ea"/><path d="M61.8 386.7 L60.5 384.3 A1.5 1.5 0 1 1 63.1 384.3 Z" fill="none" stroke="#e8a0a8" stroke-width="0.5"/><text x="79.1" y="387" class="lt" fill="#dcc37f">F</text><rect x="58.6" y="388.55" width="38.6" height="6.1" rx="3" fill="#fde9ea"/><circle cx="61.8" cy="390.6" r="0.9" fill="none" stroke="#e8a0a8" stroke-width="0.5"/><path d="M60.1 393.8 Q61.8 391.4 63.5 393.8" fill="none" stroke="#e8a0a8" stroke-width="0.5"/><text x="79.1" y="394.1" class="lt" fill="#92d07a">G</text><rect x="108.06" y="359.2" width="42.6" height="37.3" rx="4.3" fill="#d7e6f6" stroke="#3b6997" stroke-width="1.3"/><rect x="110.06" y="361.1" width="38.6" height="8.4" rx="3.6" fill="#f0f7fd"/><text x="129.36" y="365.1" class="tt">Cluster59</text><text x="129.36" y="368.7" class="ts">ST6/CC5~</text><text x="142.36" y="368.8" class="rs" fill="#f7cf1b">S</text><circle cx="118.76" cy="376.05" r="3.45" fill="#1f2b5e"/><text x="118.76" y="377.2" class="cn">283</text><circle cx="139.96" cy="376.05" r="3.45" fill="#1f2b5e"/><text x="139.96" y="377.2" class="cn">336</text><rect x="110.06" y="381.45" width="38.6" height="6.1" rx="3" fill="#f0f7fd"/><path d="M113.26 386.7 L111.96 384.3 A1.5 1.5 0 1 1 114.56 384.3 Z" fill="none" stroke="#c9d9ea" stroke-width="0.5"/><text x="124.56" y="387" class="lt" fill="#f8c690">A</text><text x="136.56" y="387" class="lt" fill="#b3dc9c">C</text><rect x="110.06" y="388.55" width="38.6" height="6.1" rx="3" fill="#f0f7fd"/><circle cx="113.26" cy="390.6" r="0.9" fill="none" stroke="#c9d9ea" stroke-width="0.5"/><path d="M111.56 393.8 Q113.26 391.4 114.96 393.8" fill="none" stroke="#c9d9ea" stroke-width="0.5"/><text x="124.56" y="394.1" class="lt" fill="#7dc2ef">B</text><text x="136.56" y="394.1" class="lt" fill="#f1d14b">Y</text><rect x="159.52" y="359.2" width="42.6" height="37.3" rx="4.3" fill="#d7e6f6" stroke="#3b6997" stroke-width="1.3"/><rect x="161.52" y="361.1" width="38.6" height="8.4" rx="3.6" fill="#f0f7fd"/><text x="180.82" y="365.1" class="tt">Cluster60</text><text x="180.82" y="368.7" class="ts">ST398/CC398</text><text x="193.82" y="368.8" class="rs" fill="#f7cf1b">S</text><circle cx="170.22" cy="376.05" r="3.45" fill="#1f2b5e"/><text x="170.22" y="377.2" class="cn">320</text><circle cx="191.42" cy="376.05" r="3.45" fill="#1f2b5e"/><text x="191.42" y="377.2" class="cn">373</text><rect x="161.52" y="381.45" width="38.6" height="6.1" rx="3" fill="#f0f7fd"/><path d="M164.72 386.7 L163.42 384.3 A1.5 1.5 0 1 1 166.02 384.3 Z" fill="none" stroke="#c9d9ea" stroke-width="0.5"/><text x="176.02" y="387" class="lt" fill="#c6bee6">B</text><text x="188.02" y="387" class="lt" fill="#b3dc9c">C</text><rect x="161.52" y="388.55" width="38.6" height="6.1" rx="3" fill="#f0f7fd"/><circle cx="164.72" cy="390.6" r="0.9" fill="none" stroke="#c9d9ea" stroke-width="0.5"/><path d="M163.02 393.8 Q164.72 391.4 166.42 393.8" fill="none" stroke="#c9d9ea" stroke-width="0.5"/><text x="182.02" y="394.1" class="lt" fill="#7dc2ef">B</text><rect x="210.98" y="359.2" width="42.6" height="37.3" rx="4.3" fill="#d7e6f6" stroke="#3b6997" stroke-width="1.3"/><rect x="212.98" y="361.1" width="38.6" height="8.4" rx="3.6" fill="#f0f7fd"/><text x="232.28" y="365.1" class="tt">Cluster61</text><text x="232.28" y="368.7" class="ts">ST398/CC398</text><text x="245.28" y="368.8" class="rs" fill="#f7cf1b">S</text><circle cx="221.68" cy="376.05" r="3.45" fill="#1f2b5e"/><text x="221.68" y="377.2" class="cn">357</text><circle cx="242.88" cy="376.05" r="3.45" fill="#1f2b5e"/><text x="242.88" y="377.2" class="cn">410</text><rect x="212.98" y="381.45" width="38.6" height="6.1" rx="3" fill="#f0f7fd"/><path d="M216.18 386.7 L214.88 384.3 A1.5 1.5 0 1 1 217.48 384.3 Z" fill="none" stroke="#c9d9ea" stroke-width="0.5"/><text x="233.48" y="387" class="lt" fill="#b9b9b9">G</text><rect x="212.98" y="388.55" width="38.6" height="6.1" rx="3" fill="#f0f7fd"/><circle cx="216.18" cy="390.6" r="0.9" fill="none" stroke="#c9d9ea" stroke-width="0.5"/><path d="M214.48 393.8 Q216.18 391.4 217.88 393.8" fill="none" stroke="#c9d9ea" stroke-width="0.5"/><text x="233.48" y="394.1" class="lt" fill="#f1d14b">Y</text><rect x="262.44" y="359.2" width="42.6" height="37.3" rx="4.3" fill="#f4abad" stroke="#e0797e" stroke-width="1.3"/><rect x="264.44" y="361.1" width="38.6" height="8.4" rx="3.6" fill="#fde9ea"/><text x="283.74" y="365.1" class="tt">Cluster62</text><text x="283.74" y="368.7" class="ts">ST398/CC398</text><text x="296.74" y="368.8" class="rs" fill="#f7cf1b">S</text><circle cx="273.14" cy="376.05" r="3.45" fill="#1f2b5e"/><text x="273.14" y="377.2" class="cn">394</text><circle cx="294.34" cy="376.05" r="3.45" fill="#9c1d26"/><text x="294.34" y="377.2" class="cn">447</text><rect x="264.44" y="381.45" width="38.6" height="6.1" rx="3" fill="#fde9ea"/><path d="M267.64 386.7 L266.34 384.3 A1.5 1.5 0 1 1 268.94 384.3 Z" fill="none" stroke="#e8a0a8" stroke-width="0.5"/><text x="278.94" y="387" class="lt" fill="#b3dc9c">C</text><text x="290.94" y="387" class="lt" fill="#9dd3f1">H</text><rect x="264.44" y="388.55" width="38.6" height="6.1" rx="3" fill="#fde9ea"/><circle cx="267.64" cy="390.6" r="0.9" fill="none" stroke="#e8a0a8" stroke-width="0.5"/><path d="M265.94 393.8 Q267.64 391.4 269.34 393.8" fill="none" stroke="#e8a0a8" stroke-width="0.5"/><text x="278.94" y="394.1" class="lt" fill="#7dc2ef">B</text><text x="290.94" y="394.1" class="lt" fill="#cba6e0">P</text><rect x="313.9" y="359.2" width="42.6" height="37.3" rx="4.3" fill="#d7e6f6" stroke="#3b6997" stroke-width="1.3"/><rect x="315.9" y="361.1" width="38.6" height="8.4" rx="3.6" fill="#f0f7fd"/><text x="335.2" y="365.1" class="tt">Cluster63</text><text x="335.2" y="368.7" class="ts">ST30/CC30</text><text x="348.2" y="368.8" class="rs" fill="#f7cf1b">S</text><circle cx="324.6" cy="376.05" r="3.45" fill="#1f2b5e"/><text x="324.6" y="377.2" class="cn">431</text><circle cx="345.8" cy="376.05" r="3.45" fill="#1f2b5e"/><text x="345.8" y="377.2" class="cn">484</text><rect x="315.9" y="381.45" width="38.6" height="6.1" rx="3" fill="#f0f7fd"/><path d="M319.1 386.7 L317.8 384.3 A1.5 1.5 0 1 1 320.4 384.3 Z" fill="none" stroke="#c9d9ea" stroke-width="0.5"/><text x="330.4" y="387" class="lt" fill="#5dbf9b">D</text><text x="342.4" y="387" class="lt" fill="#b9b9b9">G</text><rect x="315.9" y="388.55" width="38.6" height="6.1" rx="3" fill="#f0f7fd"/><circle cx="319.1" cy="390.6" r="0.9" fill="none" stroke="#c9d9ea" stroke-width="0.5"/><path d="M317.4 393.8 Q319.1 391.4 320.8 393.8" fill="none" stroke="#c9d9ea" stroke-width="0.5"/><text x="330.4" y="394.1" class="lt" fill="#92d07a">G</text><text x="342.4" y="394.1" class="lt" fill="#cba6e0">P</text><rect x="5.25" y="400.6" width="42.6" height="37.3" rx="4.3" fill="#d7e6f6" stroke="#3b6997" stroke-width="1.3"/><rect x="7.25" y="402.5" width="38.6" height="8.4" rx="3.6" fill="#f0f7fd"/><text x="26.55" y="406.5" class="tt">Cluster64</text><text x="26.55" y="410.1" class="ts">ST5/CC5</text><text x="39.55" y="410.2" class="rs" fill="#f7cf1b">S</text><circle cx="15.95" cy="417.45" r="3.45" fill="#1f2b5e"/><text x="15.95" y="418.6" class="cn">468</text><circle cx="37.15" cy="417.45" r="3.45" fill="#1f2b5e"/><text x="37.15" y="418.6" class="cn">121</text><rect x="7.25" y="422.85" width="38.6" height="6.1" rx="3" fill="#f0f7fd"/><path d="M10.45 428.1 L9.15 425.7 A1.5 1.5 0 1 1 11.75 425.7 Z" fill="none" stroke="#c9d9ea" stroke-width="0.5"/><text x="27.75" y="428.4" class="lt" fill="#5dbf9b">D</text><rect x="7.25" y="429.95" width="38.6" height="6.1" rx="3" fill="#f0f7fd"/><circle cx="10.45" cy="432" r="0.9" fill="none" stroke="#c9d9ea" stroke-width="0.5"/><path d="M8.75 435.2 Q10.45 432.8 12.15 435.2" fill="none" stroke="#c9d9ea" stroke-width="0.5"/><text x="21.75" y="435.5" class="lt" fill="#92d07a">G</text><text x="33.75" y="435.5" class="lt" fill="#f5a53c">O</text><rect x="67.1" y="400.6" width="42.6" height="37.3" rx="4.3" fill="#f4abad" stroke="#e0797e" stroke-width="1.3"/><rect x="69.1" y="402.5" width="38.6" height="8.4" rx="3.6" fill="#fde9ea"/><text x="88.4" y="406.5" class="tt">Cluster65</text><text x="88.4" y="410.1" class="ts">ST45/CC45</text><text x="101.4" y="410.2" class="rs" fill="#f7cf1b">S</text><circle cx="77.8" cy="417.45" r="3.45" fill="#f5a55c"/><text x="77.8" y="418.6" class="cn">105</text><circle cx="99" cy="417.45" r="3.45" fill="#1f2b5e"/><text x="99" y="418.6" class="cn">158</text><rect x="69.1" y="422.85" width="38.6" height="6.1" rx="3" fill="#fde9ea"/><path d="M72.3 428.1 L71 425.7 A1.5 1.5 0 1 1 73.6 425.7 Z" fill="none" stroke="#e8a0a8" stroke-width="0.5"/><text x="89.6" y="428.4" class="lt" fill="#b9b9b9">G</text><rect x="69.1" y="429.95" width="38.6" height="6.1" rx="3" fill="#fde9ea"/><circle cx="72.3" cy="432" r="0.9" fill="none" stroke="#e8a0a8" stroke-width="0.5"/><path d="M70.6 435.2 Q72.3 432.8 74 435.2" fill="none" stroke="#e8a0a8" stroke-width="0.5"/><text x="89.6" y="435.5" class="lt" fill="#cba6e0">P</text><rect x="128.6" y="400.6" width="42.6" height="37.3" rx="4.3" fill="#d7e6f6" stroke="#3b6997" stroke-width="1.3"/><rect x="130.6" y="402.5" width="38.6" height="8.4" rx="3.6" fill="#f0f7fd"/><text x="149.9" y="406.5" class="tt">Cluster66</text><text x="149.9" y="410.1" class="ts">ST398/CC1</text><text x="162.9" y="410.2" class="rs" fill="#f7cf1b">S</text><circle cx="139.3" cy="417.45" r="3.45" fill="#1f2b5e"/><text x="139.3" y="418.6" class="cn">142</text><circle cx="160.5" cy="417.45" r="3.45" fill="#1f2b5e"/><text x="160.5" y="418.6" class="cn">195</text><rect x="130.6" y="422.85" width="38.6" height="6.1" rx="3" fill="#f0f7fd"/><path d="M133.8 428.1 L132.5 425.7 A1.5 1.5 0 1 1 135.1 425.7 Z" fill="none" stroke="#c9d9ea" stroke-width="0.5"/><text x="151.1" y="428.4" class="lt" fill="#9dd3f1">H</text><rect x="130.6" y="429.95" width="38.6" height="6.1" rx="3" fill="#f0f7fd"/><circle cx="133.8" cy="432" r="0.9" fill="none" stroke="#c9d9ea" stroke-width="0.5"/><path d="M132.1 435.2 Q133.8 432.8 135.5 435.2" fill="none" stroke="#c9d9ea" stroke-width="0.5"/><text x="145.1" y="435.5" class="lt" fill="#cba6e0">P</text><text x="157.1" y="435.5" class="lt" fill="#f1d14b">Y</text><rect x="190.5" y="400.6" width="42.6" height="37.3" rx="4.3" fill="#d7e6f6" stroke="#3b6997" stroke-width="1.3"/><rect x="192.5" y="402.5" width="38.6" height="8.4" rx="3.6" fill="#f0f7fd"/><text x="211.8" y="406.5" class="tt">Cluster67</text><text x="211.8" y="410.1" class="ts">ST398/CC1</text><text x="224.8" y="410.2" class="rs" fill="#f7cf1b">S</text><circle cx="197.67" cy="417.45" r="3.45" fill="#1f2b5e"/><text x="197.67" y="418.6" class="cn">179</text><circle cx="211.8" cy="417.45" r="3.45" fill="#1f2b5e"/><text x="211.8" y="418.6" class="cn">232</text><rect x="223.33" y="414.85" width="5.2" height="5.2" fill="#c9c1b9" transform="rotate(45 225.93 417.45)"/><rect x="192.5" y="422.85" width="38.6" height="6.1" rx="3" fill="#f0f7fd"/><path d="M195.7 428.1 L194.4 425.7 A1.5 1.5 0 1 1 197 425.7 Z" fill="none" stroke="#c9d9ea" stroke-width="0.5"/><text x="207" y="428.4" class="lt" fill="#f8c690">A</text><text x="219" y="428.4" class="lt" fill="#c6bee6">B</text><rect x="192.5" y="429.95" width="38.6" height="6.1" rx="3" fill="#f0f7fd"/><circle cx="195.7" cy="432" r="0.9" fill="none" stroke="#c9d9ea" stroke-width="0.5"/><path d="M194 435.2 Q195.7 432.8 197.4 435.2" fill="none" stroke="#c9d9ea" stroke-width="0.5"/><text x="213" y="435.5" class="lt" fill="#ef6f7b">R</text><rect x="252.6" y="400.6" width="42.6" height="37.3" rx="4.3" fill="#f4abad" stroke="#e0797e" stroke-width="1.3"/><rect x="254.6" y="402.5" width="38.6" height="8.4" rx="3.6" fill="#fde9ea"/><text x="273.9" y="406.5" class="tt">Cluster68</text><text x="273.9" y="410.1" class="ts">ST398/CC121</text><text x="286.9" y="410.2" class="rs" fill="#f7cf1b">S</text><circle cx="263.3" cy="417.45" r="3.45" fill="#1f2b5e"/><text x="263.3" y="418.6" class="cn">216</text><circle cx="284.5" cy="417.45" r="3.45" fill="#f5a55c"/><text x="284.5" y="418.6" class="cn">269</text><rect x="254.6" y="422.85" width="38.6" height="6.1" rx="3" fill="#fde9ea"/><path d="M257.8 428.1 L256.5 425.7 A1.5 1.5 0 1 1 259.1 425.7 Z" fill="none" stroke="#e8a0a8" stroke-width="0.5"/><text x="275.1" y="428.4" class="lt" fill="#f8c690">A</text><rect x="254.6" y="429.95" width="38.6" height="6.1" rx="3" fill="#fde9ea"/><circle cx="257.8" cy="432" r="0.9" fill="none" stroke="#e8a0a8" stroke-width="0.5"/><path d="M256.1 435.2 Q257.8 432.8 259.5 435.2" fill="none" stroke="#e8a0a8" stroke-width="0.5"/><text x="269.1" y="435.5" class="lt" fill="#ef6f7b">R</text><text x="281.1" y="435.5" class="lt" fill="#f1d14b">Y</text><rect x="313.3" y="400.6" width="42.6" height="37.3" rx="4.3" fill="#d7e6f6" stroke="#3b6997" stroke-width="1.3"/><rect x="315.3" y="402.5" width="38.6" height="8.4" rx="3.6" fill="#f0f7fd"/><text x="334.6" y="406.5" class="tt">Cluster69</text><text x="334.6" y="410.1" class="ts">ST121/CC121</text><text x="347.6" y="410.2" class="rs" fill="#f7cf1b">S</text><circle cx="324" cy="417.45" r="3.45" fill="#1f2b5e"/><text x="324" y="418.6" class="cn">253</text><circle cx="345.2" cy="417.45" r="3.45" fill="#1f2b5e"/><text x="345.2" y="418.6" class="cn">306</text><rect x="315.3" y="422.85" width="38.6" height="6.1" rx="3" fill="#f0f7fd"/><path d="M318.5 428.1 L317.2 425.7 A1.5 1.5 0 1 1 319.8 425.7 Z" fill="none" stroke="#c9d9ea" stroke-width="0.5"/><text x="335.8" y="428.4" class="lt" fill="#5dbf9b">D</text><rect x="315.3" y="429.95" width="38.6" height="6.1" rx="3" fill="#f0f7fd"/><circle cx="318.5" cy="432" r="0.9" fill="none" stroke="#c9d9ea" stroke-width="0.5"/><path d="M316.8 435.2 Q318.5 432.8 320.2 435.2" fill="none" stroke="#c9d9ea" stroke-width="0.5"/><text x="335.8" y="435.5" class="lt" fill="#92d07a">G</text></svg>
<!-- left legend -->
<div style="position:absolute;left:6.9px;top:443.4px;width:13.2px;height:13.2px;border-radius:50%;background:#1f2b5e"></div>
<div class="lg" style="left:21.4px;top:444.1px">Patient with colonization</div>
<div style="position:absolute;left:6.9px;top:461.9px;width:13.2px;height:13.2px;border-radius:50%;background:#9c1d26"></div>
<div class="lg" style="left:21.4px;top:462.7px">Patient with invasive infection</div>
<div style="position:absolute;left:6.9px;top:481.4px;width:13.2px;height:13.2px;border-radius:50%;background:#f5a55c"></div>
<div class="lg" style="left:21.4px;top:477.0px">Patient with both colonization</div>
<div class="lg" style="left:21.4px;top:487.6px">and invasive infection</div>
<div style="position:absolute;left:8.7px;top:502.6px;width:8.8px;height:8.8px;background:#c9c1b9;transform:rotate(45deg)"></div>
<div class="lg" style="left:21.4px;top:501.0px">Environmental sample</div>
<div style="position:absolute;left:164.8px;top:454.7px;width:25.7px;height:16.1px;box-sizing:border-box;border:1.3px solid #44709e;border-radius:3px;background:#dce9f7"></div>
<div class="lg" style="left:193.5px;top:457.2px">Colonizing Cluster</div>
<div style="position:absolute;left:164.8px;top:477.5px;width:25.7px;height:16.1px;box-sizing:border-box;border:1.3px solid #e0797e;border-radius:3px;background:#f4abad"></div>
<div class="lg" style="left:195px;top:479.0px">Invasive Cluster</div>
<div style="position:absolute;left:279px;top:449px;font-size:25px;line-height:28px;font-weight:bold;color:#f06aa8">R</div>
<div class="lg" style="left:300px;top:458.4px">MRSA Cluster</div>
<div style="position:absolute;left:279px;top:471.8px;font-size:25px;line-height:28px;font-weight:bold;color:#f7cf1b">S</div>
<div class="lg" style="left:301.7px;top:482.4px">MSSA Cluster</div>
<!-- chart -->
<div class="rl" style="top:13.9px">6</div>
<div class="rl" style="top:23.6px">10</div>
<div class="rl" style="top:33.31px">3</div>
<div class="rl" style="top:43.01px">23</div>
<div class="rl" style="top:52.72px">8</div>
<div class="rl" style="top:62.42px">18</div>
<div class="rl" style="top:72.12px">2</div>
<div class="rl" style="top:81.83px">1</div>
<div class="rl" style="top:91.53px">16</div>
<div class="rl" style="top:101.24px">15</div>
<div class="rl" style="top:110.94px">12</div>
<div class="rl" style="top:120.64px">5</div>
<div class="rl" style="top:130.35px">13</div>
<div class="rl" style="top:140.05px">31</div>
<div class="rl" style="top:149.76px">19</div>
<div class="rl" style="top:159.46px">58</div>
<div class="rl" style="top:169.16px">7</div>
<div class="rl" style="top:178.87px">4</div>
<div class="rl" style="top:188.57px">56</div>
<div class="rl" style="top:198.28px">14</div>
<div class="rl" style="top:207.98px">68</div>
<div class="rl" style="top:217.68px">32</div>
<div class="rl" style="top:227.39px">28</div>
<div class="rl" style="top:237.09px">63</div>
<div class="rl" style="top:246.8px">30</div>
<div class="rl" style="top:256.5px">38</div>
<div class="rl" style="top:266.2px">48</div>
<div class="rl" style="top:275.91px">9</div>
<div class="rl" style="top:285.61px">29</div>
<div class="rl" style="top:295.32px">67</div>
<div class="rl" style="top:305.02px">49</div>
<div class="rl" style="top:314.72px">57</div>
<div class="rl" style="top:324.43px">59</div>
<div class="rl" style="top:334.13px">24</div>
<div class="rl" style="top:343.84px">65</div>
<div class="rl" style="top:353.54px">26</div>
<div class="rl" style="top:363.24px">51</div>
<div class="rl" style="top:372.95px">17</div>
<div class="rl" style="top:382.65px">20</div>
<div class="rl" style="top:392.36px">21</div>
<div class="rl" style="top:402.06px">11</div>
<div class="rl" style="top:411.76px">35</div>
<div class="rl" style="top:421.47px">25</div>
<div class="rl" style="top:431.17px">22</div>
<div class="rl" style="top:440.88px">37</div>
<div class="rl" style="top:450.58px">33</div>
<div class="rl" style="top:460.28px">46</div>
<div class="rl" style="top:469.99px">34</div>
<svg style="position:absolute;left:0;top:0" width="685" height="514" viewBox="0 0 685 514"><rect x="405.2" y="18.9" width="31.7" height="1" fill="#efefef"/><rect x="442.4" y="18.9" width="235" height="1" fill="#efefef"/><rect x="405.2" y="28.6" width="31.7" height="1" fill="#efefef"/><rect x="442.4" y="28.6" width="235" height="1" fill="#efefef"/><rect x="405.2" y="38.31" width="31.7" height="1" fill="#efefef"/><rect x="442.4" y="38.31" width="235" height="1" fill="#efefef"/><rect x="405.2" y="48.01" width="31.7" height="1" fill="#efefef"/><rect x="442.4" y="48.01" width="235" height="1" fill="#efefef"/><rect x="405.2" y="57.72" width="31.7" height="1" fill="#efefef"/><rect x="442.4" y="57.72" width="235" height="1" fill="#efefef"/><rect x="405.2" y="67.42" width="31.7" height="1" fill="#efefef"/><rect x="442.4" y="67.42" width="235" height="1" fill="#efefef"/><rect x="405.2" y="77.12" width="31.7" height="1" fill="#efefef"/><rect x="442.4" y="77.12" width="235" height="1" fill="#efefef"/><rect x="405.2" y="86.83" width="31.7" height="1" fill="#efefef"/><rect x="442.4" y="86.83" width="235" height="1" fill="#efefef"/><rect x="405.2" y="96.53" width="31.7" height="1" fill="#efefef"/><rect x="442.4" y="96.53" width="235" height="1" fill="#efefef"/><rect x="405.2" y="106.24" width="31.7" height="1" fill="#efefef"/><rect x="442.4" y="106.24" width="235" height="1" fill="#efefef"/><rect x="405.2" y="115.94" width="31.7" height="1" fill="#efefef"/><rect x="442.4" y="115.94" width="235" height="1" fill="#efefef"/><rect x="405.2" y="125.64" width="31.7" height="1" fill="#efefef"/><rect x="442.4" y="125.64" width="235" height="1" fill="#efefef"/><rect x="405.2" y="135.35" width="31.7" height="1" fill="#efefef"/><rect x="442.4" y="135.35" width="235" height="1" fill="#efefef"/><rect x="405.2" y="145.05" width="31.7" height="1" fill="#efefef"/><rect x="442.4" y="145.05" width="235" height="1" fill="#efefef"/><rect x="405.2" y="154.76" width="31.7" height="1" fill="#efefef"/><rect x="442.4" y="154.76" width="235" height="1" fill="#efefef"/><rect x="405.2" y="164.46" width="31.7" height="1" fill="#efefef"/><rect x="442.4" y="164.46" width="235" height="1" fill="#efefef"/><rect x="405.2" y="174.16" width="31.7" height="1" fill="#efefef"/><rect x="442.4" y="174.16" width="235" height="1" fill="#efefef"/><rect x="405.2" y="183.87" width="31.7" height="1" fill="#efefef"/><rect x="442.4" y="183.87" width="235" height="1" fill="#efefef"/><rect x="405.2" y="193.57" width="31.7" height="1" fill="#efefef"/><rect x="442.4" y="193.57" width="235" height="1" fill="#efefef"/><rect x="405.2" y="203.28" width="31.7" height="1" fill="#efefef"/><rect x="442.4" y="203.28" width="235" height="1" fill="#efefef"/><rect x="405.2" y="212.98" width="31.7" height="1" fill="#efefef"/><rect x="442.4" y="212.98" width="235" height="1" fill="#efefef"/><rect x="405.2" y="222.68" width="31.7" height="1" fill="#efefef"/><rect x="442.4" y="222.68" width="235" height="1" fill="#efefef"/><rect x="405.2" y="232.39" width="31.7" height="1" fill="#efefef"/><rect x="442.4" y="232.39" width="235" height="1" fill="#efefef"/><rect x="405.2" y="242.09" width="31.7" height="1" fill="#efefef"/><rect x="442.4" y="242.09" width="235" height="1" fill="#efefef"/><rect x="405.2" y="251.8" width="31.7" height="1" fill="#efefef"/><rect x="442.4" y="251.8" width="235" height="1" fill="#efefef"/><rect x="405.2" y="261.5" width="31.7" height="1" fill="#efefef"/><rect x="442.4" y="261.5" width="235" height="1" fill="#efefef"/><rect x="405.2" y="271.2" width="31.7" height="1" fill="#efefef"/><rect x="442.4" y="271.2" width="235" height="1" fill="#efefef"/><rect x="405.2" y="280.91" width="31.7" height="1" fill="#efefef"/><rect x="442.4" y="280.91" width="235" height="1" fill="#efefef"/><rect x="405.2" y="290.61" width="31.7" height="1" fill="#efefef"/><rect x="442.4" y="290.61" width="235" height="1" fill="#efefef"/><rect x="405.2" y="300.32" width="31.7" height="1" fill="#efefef"/><rect x="442.4" y="300.32" width="235" height="1" fill="#efefef"/><rect x="405.2" y="310.02" width="31.7" height="1" fill="#efefef"/><rect x="442.4" y="310.02" width="235" height="1" fill="#efefef"/><rect x="405.2" y="319.72" width="31.7" height="1" fill="#efefef"/><rect x="442.4" y="319.72" width="235" height="1" fill="#efefef"/><rect x="405.2" y="329.43" width="31.7" height="1" fill="#efefef"/><rect x="442.4" y="329.43" width="235" height="1" fill="#efefef"/><rect x="405.2" y="339.13" width="31.7" height="1" fill="#efefef"/><rect x="442.4" y="339.13" width="235" height="1" fill="#efefef"/><rect x="405.2" y="348.84" width="31.7" height="1" fill="#efefef"/><rect x="442.4" y="348.84" width="235" height="1" fill="#efefef"/><rect x="405.2" y="358.54" width="31.7" height="1" fill="#efefef"/><rect x="442.4" y="358.54" width="235" height="1" fill="#efefef"/><rect x="405.2" y="368.24" width="31.7" height="1" fill="#efefef"/><rect x="442.4" y="368.24" width="235" height="1" fill="#efefef"/><rect x="405.2" y="377.95" width="31.7" height="1" fill="#efefef"/><rect x="442.4" y="377.95" width="235" height="1" fill="#efefef"/><rect x="405.2" y="387.65" width="31.7" height="1" fill="#efefef"/><rect x="442.4" y="387.65" width="235" height="1" fill="#efefef"/><rect x="405.2" y="397.36" width="31.7" height="1" fill="#efefef"/><rect x="442.4" y="397.36" width="235" height="1" fill="#efefef"/><rect x="405.2" y="407.06" width="31.7" height="1" fill="#efefef"/><rect x="442.4" y="407.06" width="235" height="1" fill="#efefef"/><rect x="405.2" y="416.76" width="31.7" height="1" fill="#efefef"/><rect x="442.4" y="416.76" width="235" height="1" fill="#efefef"/><rect x="405.2" y="426.47" width="31.7" height="1" fill="#efefef"/><rect x="442.4" y="426.47" width="235" height="1" fill="#efefef"/><rect x="405.2" y="436.17" width="31.7" height="1" fill="#efefef"/><rect x="442.4" y="436.17" width="235" height="1" fill="#efefef"/><rect x="405.2" y="445.88" width="31.7" height="1" fill="#efefef"/><rect x="442.4" y="445.88" width="235" height="1" fill="#efefef"/><rect x="405.2" y="455.58" width="31.7" height="1" fill="#efefef"/><rect x="442.4" y="455.58" width="235" height="1" fill="#efefef"/><rect x="405.2" y="465.28" width="31.7" height="1" fill="#efefef"/><rect x="442.4" y="465.28" width="235" height="1" fill="#efefef"/><rect x="405.2" y="474.99" width="31.7" height="1" fill="#efefef"/><rect x="442.4" y="474.99" width="235" height="1" fill="#efefef"/><rect x="419.4" y="15.4" width="2.8" height="4" fill="#d3dca6"/><rect x="405.1" y="19.4" width="29.5" height="3.8" fill="#94c2ea"/><rect x="420.5" y="15.4" width="1" height="4" fill="#8aa04f"/><rect x="420.95" y="19.4" width="1.1" height="3.8" fill="#4d6c9c"/><rect x="430.6" y="25.1" width="1.9" height="4" fill="#d3dca6"/><rect x="424.5" y="29.1" width="12.4" height="3.8" fill="#94c2ea"/><rect x="442.4" y="29.1" width="14.4" height="3.8" fill="#94c2ea"/><rect x="431" y="25.1" width="1" height="4" fill="#8aa04f"/><rect x="432.85" y="29.1" width="1.1" height="3.8" fill="#4d6c9c"/><rect x="433" y="34.81" width="2" height="4" fill="#d3dca6"/><rect x="426.4" y="38.81" width="10.5" height="3.8" fill="#94c2ea"/><rect x="442.4" y="38.81" width="18.6" height="3.8" fill="#94c2ea"/><rect x="433.4" y="34.81" width="1" height="4" fill="#8aa04f"/><rect x="434.05" y="38.81" width="1.1" height="3.8" fill="#4d6c9c"/><rect x="433" y="44.51" width="2" height="4" fill="#d3dca6"/><rect x="426.2" y="48.51" width="10.7" height="3.8" fill="#94c2ea"/><rect x="442.4" y="48.51" width="34.2" height="3.8" fill="#94c2ea"/><rect x="433.4" y="44.51" width="1" height="4" fill="#8aa04f"/><rect x="434.05" y="48.51" width="1.1" height="3.8" fill="#4d6c9c"/><rect x="435.5" y="54.22" width="1.4" height="4" fill="#d3dca6"/><rect x="432" y="58.22" width="4.9" height="3.8" fill="#94c2ea"/><rect x="442.4" y="58.22" width="18.8" height="3.8" fill="#94c2ea"/><rect x="435.5" y="54.22" width="1" height="4" fill="#8aa04f"/><rect x="435.65" y="58.22" width="1.1" height="3.8" fill="#4d6c9c"/><rect x="442.4" y="63.92" width="11.8" height="4" fill="#d3dca6"/><rect x="435" y="67.92" width="1.7" height="3.8" fill="#94c2ea"/><rect x="442.4" y="67.92" width="75.1" height="3.8" fill="#94c2ea"/><rect x="447.9" y="63.92" width="1" height="4" fill="#8aa04f"/><rect x="453.85" y="67.92" width="1.1" height="3.8" fill="#4d6c9c"/><rect x="442.4" y="73.62" width="9.5" height="4" fill="#d3dca6"/><rect x="442.4" y="77.62" width="34.9" height="3.8" fill="#94c2ea"/><rect x="449.3" y="73.62" width="1" height="4" fill="#8aa04f"/><rect x="452.05" y="77.62" width="1.1" height="3.8" fill="#4d6c9c"/><rect x="442.4" y="83.33" width="20.3" height="4" fill="#d3dca6"/><rect x="442.4" y="87.33" width="46.5" height="3.8" fill="#94c2ea"/><rect x="461.7" y="83.33" width="1" height="4" fill="#8aa04f"/><rect x="463.35" y="87.33" width="1.1" height="3.8" fill="#4d6c9c"/><rect x="450.3" y="93.03" width="29.2" height="4" fill="#d3dca6"/><rect x="455.2" y="97.03" width="50.2" height="3.8" fill="#94c2ea"/><rect x="475" y="93.03" width="1" height="4" fill="#8aa04f"/><rect x="478.45" y="97.03" width="1.1" height="3.8" fill="#4d6c9c"/><rect x="448.2" y="102.74" width="29.7" height="4" fill="#d3dca6"/><rect x="449.9" y="106.74" width="51.3" height="3.8" fill="#94c2ea"/><rect x="476.5" y="102.74" width="1" height="4" fill="#8aa04f"/><rect x="476.85" y="106.74" width="1.1" height="3.8" fill="#4d6c9c"/><rect x="463.4" y="112.44" width="18" height="4" fill="#d3dca6"/><rect x="462.7" y="116.44" width="33.4" height="3.8" fill="#94c2ea"/><rect x="480.2" y="112.44" width="1" height="4" fill="#8aa04f"/><rect x="480.85" y="116.44" width="1.1" height="3.8" fill="#4d6c9c"/><rect x="481.9" y="122.14" width="18.6" height="4" fill="#d3dca6"/><rect x="475.1" y="126.14" width="47.9" height="3.8" fill="#94c2ea"/><rect x="489.1" y="122.14" width="1" height="4" fill="#8aa04f"/><rect x="500.25" y="126.14" width="1.1" height="3.8" fill="#4d6c9c"/><rect x="459.9" y="131.85" width="30.8" height="4" fill="#d3dca6"/><rect x="461" y="135.85" width="55.9" height="3.8" fill="#94c2ea"/><rect x="489.5" y="131.85" width="1" height="4" fill="#8aa04f"/><rect x="489.75" y="135.85" width="1.1" height="3.8" fill="#4d6c9c"/><rect x="465" y="141.55" width="32.7" height="4" fill="#d3dca6"/><rect x="481.4" y="145.55" width="24" height="3.8" fill="#94c2ea"/><rect x="490.9" y="141.55" width="1" height="4" fill="#8aa04f"/><rect x="494.85" y="145.55" width="1.1" height="3.8" fill="#4d6c9c"/><rect x="476.7" y="151.26" width="24.5" height="4" fill="#d3dca6"/><rect x="462" y="155.26" width="73" height="3.8" fill="#94c2ea"/><rect x="493.7" y="151.26" width="1" height="4" fill="#8aa04f"/><rect x="500.75" y="155.26" width="1.1" height="3.8" fill="#4d6c9c"/><rect x="477.2" y="160.96" width="33.4" height="4" fill="#d3dca6"/><rect x="442.4" y="164.96" width="131.7" height="3.8" fill="#94c2ea"/><rect x="496.1" y="160.96" width="1" height="4" fill="#8aa04f"/><rect x="510.05" y="164.96" width="1.1" height="3.8" fill="#4d6c9c"/><rect x="480.9" y="170.66" width="18.7" height="4" fill="#d3dca6"/><rect x="470.9" y="174.66" width="52.5" height="3.8" fill="#94c2ea"/><rect x="498.5" y="170.66" width="1" height="4" fill="#8aa04f"/><rect x="499.45" y="174.66" width="1.1" height="3.8" fill="#4d6c9c"/><rect x="477.4" y="180.37" width="39.5" height="4" fill="#d3dca6"/><rect x="490" y="184.37" width="52" height="3.8" fill="#94c2ea"/><rect x="511.7" y="180.37" width="1" height="4" fill="#8aa04f"/><rect x="517.05" y="184.37" width="1.1" height="3.8" fill="#4d6c9c"/><rect x="501.7" y="190.07" width="20.6" height="4" fill="#d3dca6"/><rect x="497.3" y="194.07" width="46.5" height="3.8" fill="#94c2ea"/><rect x="520.6" y="190.07" width="1" height="4" fill="#8aa04f"/><rect x="521.75" y="194.07" width="1.1" height="3.8" fill="#4d6c9c"/><rect x="502.4" y="199.78" width="20.3" height="4" fill="#d3dca6"/><rect x="508.7" y="203.78" width="21" height="3.8" fill="#94c2ea"/><rect x="521.3" y="199.78" width="1" height="4" fill="#8aa04f"/><rect x="522.15" y="203.78" width="1.1" height="3.8" fill="#4d6c9c"/><rect x="505.2" y="209.48" width="22.4" height="4" fill="#d3dca6"/><rect x="523.9" y="213.48" width="5.4" height="3.8" fill="#94c2ea"/><rect x="522.9" y="209.48" width="1" height="4" fill="#8aa04f"/><rect x="527.55" y="213.48" width="1.1" height="3.8" fill="#4d6c9c"/><rect x="511" y="219.18" width="14.8" height="4" fill="#d3dca6"/><rect x="508.3" y="223.18" width="33.4" height="3.8" fill="#94c2ea"/><rect x="524.8" y="219.18" width="1" height="4" fill="#8aa04f"/><rect x="525.95" y="223.18" width="1.1" height="3.8" fill="#4d6c9c"/><rect x="504.8" y="228.89" width="21.1" height="4" fill="#d3dca6"/><rect x="511.9" y="232.89" width="25.9" height="3.8" fill="#94c2ea"/><rect x="524.5" y="228.89" width="1" height="4" fill="#8aa04f"/><rect x="524.85" y="232.89" width="1.1" height="3.8" fill="#4d6c9c"/><rect x="517.2" y="238.59" width="18.7" height="4" fill="#d3dca6"/><rect x="521.2" y="242.59" width="28.7" height="3.8" fill="#94c2ea"/><rect x="534.7" y="238.59" width="1" height="4" fill="#8aa04f"/><rect x="536.05" y="242.59" width="1.1" height="3.8" fill="#4d6c9c"/><rect x="530.1" y="248.3" width="13.5" height="4" fill="#d3dca6"/><rect x="531.2" y="252.3" width="23.4" height="3.8" fill="#94c2ea"/><rect x="540.8" y="248.3" width="1" height="4" fill="#8aa04f"/><rect x="543.55" y="252.3" width="1.1" height="3.8" fill="#4d6c9c"/><rect x="510.2" y="258" width="37.4" height="4" fill="#d3dca6"/><rect x="524.9" y="262" width="43" height="3.8" fill="#94c2ea"/><rect x="545.5" y="258" width="1" height="4" fill="#8aa04f"/><rect x="547.55" y="262" width="1.1" height="3.8" fill="#4d6c9c"/><rect x="540.1" y="267.7" width="8.2" height="4" fill="#d3dca6"/><rect x="531.9" y="271.7" width="29" height="3.8" fill="#94c2ea"/><rect x="547.1" y="267.7" width="1" height="4" fill="#8aa04f"/><rect x="547.75" y="271.7" width="1.1" height="3.8" fill="#4d6c9c"/><rect x="530.5" y="277.41" width="21.3" height="4" fill="#d3dca6"/><rect x="540.6" y="281.41" width="21" height="3.8" fill="#94c2ea"/><rect x="550.6" y="277.41" width="1" height="4" fill="#8aa04f"/><rect x="552.15" y="281.41" width="1.1" height="3.8" fill="#4d6c9c"/><rect x="526.2" y="287.11" width="29.5" height="4" fill="#d3dca6"/><rect x="537" y="291.11" width="34.8" height="3.8" fill="#94c2ea"/><rect x="555.1" y="287.11" width="1" height="4" fill="#8aa04f"/><rect x="555.15" y="291.11" width="1.1" height="3.8" fill="#4d6c9c"/><rect x="533.4" y="296.82" width="31.3" height="4" fill="#d3dca6"/><rect x="560.3" y="300.82" width="5.8" height="3.8" fill="#94c2ea"/><rect x="558.6" y="296.82" width="1" height="4" fill="#8aa04f"/><rect x="562.55" y="300.82" width="1.1" height="3.8" fill="#4d6c9c"/><rect x="547.9" y="306.52" width="12.4" height="4" fill="#d3dca6"/><rect x="550.2" y="310.52" width="17.5" height="3.8" fill="#94c2ea"/><rect x="559.1" y="306.52" width="1" height="4" fill="#8aa04f"/><rect x="559.75" y="310.52" width="1.1" height="3.8" fill="#4d6c9c"/><rect x="543.9" y="316.22" width="22.7" height="4" fill="#d3dca6"/><rect x="554.2" y="320.22" width="22.2" height="3.8" fill="#94c2ea"/><rect x="564.9" y="316.22" width="1" height="4" fill="#8aa04f"/><rect x="566.45" y="320.22" width="1.1" height="3.8" fill="#4d6c9c"/><rect x="556.5" y="325.93" width="11.7" height="4" fill="#d3dca6"/><rect x="556.5" y="329.93" width="20.6" height="3.8" fill="#94c2ea"/><rect x="566.8" y="325.93" width="1" height="4" fill="#8aa04f"/><rect x="567.85" y="329.93" width="1.1" height="3.8" fill="#4d6c9c"/><rect x="546.7" y="335.63" width="30.4" height="4" fill="#d3dca6"/><rect x="570.1" y="339.63" width="12.8" height="3.8" fill="#94c2ea"/><rect x="571.9" y="335.63" width="1" height="4" fill="#8aa04f"/><rect x="577.05" y="339.63" width="1.1" height="3.8" fill="#4d6c9c"/><rect x="558.4" y="345.34" width="18.7" height="4" fill="#d3dca6"/><rect x="565.4" y="349.34" width="20.6" height="3.8" fill="#94c2ea"/><rect x="575.9" y="345.34" width="1" height="4" fill="#8aa04f"/><rect x="576.05" y="349.34" width="1.1" height="3.8" fill="#4d6c9c"/><rect x="568.9" y="355.04" width="10.7" height="4" fill="#d3dca6"/><rect x="574.7" y="359.04" width="7.5" height="3.8" fill="#94c2ea"/><rect x="578.5" y="355.04" width="1" height="4" fill="#8aa04f"/><rect x="578.75" y="359.04" width="1.1" height="3.8" fill="#4d6c9c"/><rect x="567" y="364.74" width="20.6" height="4" fill="#d3dca6"/><rect x="579.9" y="368.74" width="13.3" height="3.8" fill="#94c2ea"/><rect x="582.9" y="364.74" width="1" height="4" fill="#8aa04f"/><rect x="587.05" y="368.74" width="1.1" height="3.8" fill="#4d6c9c"/><rect x="570.1" y="374.45" width="15.2" height="4" fill="#d3dca6"/><rect x="573.4" y="378.45" width="22.1" height="3.8" fill="#94c2ea"/><rect x="584.1" y="374.45" width="1" height="4" fill="#8aa04f"/><rect x="584.75" y="378.45" width="1.1" height="3.8" fill="#4d6c9c"/><rect x="576.9" y="384.15" width="15.8" height="4" fill="#d3dca6"/><rect x="590.9" y="388.15" width="3" height="3.8" fill="#94c2ea"/><rect x="590.6" y="384.15" width="1" height="4" fill="#8aa04f"/><rect x="592.15" y="388.15" width="1.1" height="3.8" fill="#4d6c9c"/><rect x="575.9" y="393.86" width="19.6" height="4" fill="#d3dca6"/><rect x="585" y="397.86" width="19.9" height="3.8" fill="#94c2ea"/><rect x="594.6" y="393.86" width="1" height="4" fill="#8aa04f"/><rect x="594.95" y="397.86" width="1.1" height="3.8" fill="#4d6c9c"/><rect x="579.4" y="403.56" width="17.3" height="4" fill="#d3dca6"/><rect x="586.2" y="407.56" width="20.6" height="3.8" fill="#94c2ea"/><rect x="595.5" y="403.56" width="1" height="4" fill="#8aa04f"/><rect x="596.15" y="407.56" width="1.1" height="3.8" fill="#4d6c9c"/><rect x="581.8" y="413.26" width="14.9" height="4" fill="#d3dca6"/><rect x="585" y="417.26" width="21.8" height="3.8" fill="#94c2ea"/><rect x="595.5" y="413.26" width="1" height="4" fill="#8aa04f"/><rect x="595.65" y="417.26" width="1.1" height="3.8" fill="#4d6c9c"/><rect x="590.6" y="422.97" width="9.1" height="4" fill="#d3dca6"/><rect x="588.6" y="426.97" width="20" height="3.8" fill="#94c2ea"/><rect x="598.7" y="422.97" width="1" height="4" fill="#8aa04f"/><rect x="599.15" y="426.97" width="1.1" height="3.8" fill="#4d6c9c"/><rect x="590.4" y="432.67" width="16.4" height="4" fill="#d3dca6"/><rect x="589.2" y="436.67" width="29.2" height="3.8" fill="#94c2ea"/><rect x="603.2" y="432.67" width="1" height="4" fill="#8aa04f"/><rect x="606.25" y="436.67" width="1.1" height="3.8" fill="#4d6c9c"/><rect x="598.1" y="442.38" width="11.5" height="4" fill="#d3dca6"/><rect x="599.3" y="446.38" width="18.7" height="3.8" fill="#94c2ea"/><rect x="608.5" y="442.38" width="1" height="4" fill="#8aa04f"/><rect x="609.05" y="446.38" width="1.1" height="3.8" fill="#4d6c9c"/><rect x="599" y="452.08" width="12" height="4" fill="#d3dca6"/><rect x="599" y="456.08" width="21.8" height="3.8" fill="#94c2ea"/><rect x="609.8" y="452.08" width="1" height="4" fill="#8aa04f"/><rect x="610.45" y="456.08" width="1.1" height="3.8" fill="#4d6c9c"/><rect x="616.6" y="461.78" width="14.7" height="4" fill="#d3dca6"/><rect x="620.1" y="465.78" width="22.4" height="3.8" fill="#94c2ea"/><rect x="630.1" y="461.78" width="1" height="4" fill="#8aa04f"/><rect x="631.25" y="465.78" width="1.1" height="3.8" fill="#4d6c9c"/><rect x="660.5" y="471.49" width="7.5" height="4" fill="#d3dca6"/><rect x="661.2" y="475.49" width="12.1" height="3.8" fill="#94c2ea"/><rect x="667.5" y="471.49" width="1" height="4" fill="#8aa04f"/><rect x="666.95" y="475.49" width="1.1" height="3.8" fill="#4d6c9c"/><path d="M507 16.2 L510 21.4 L504 21.4 Z" fill="#c8578a"/><circle cx="528" cy="19.4" r="2.2" fill="#c8578a"/><path d="M506.3 25.9 L509.3 31.1 L503.3 31.1 Z" fill="#c8578a"/><circle cx="529.9" cy="29.1" r="2.2" fill="#c8578a"/><path d="M502 35.61 L505 40.81 L499 40.81 Z" fill="#c8578a"/><circle cx="505.3" cy="38.81" r="2.2" fill="#c8578a"/><path d="M525.4 45.31 L528.4 50.51 L522.4 50.51 Z" fill="#c8578a"/><circle cx="529.9" cy="48.51" r="2.2" fill="#c8578a"/><path d="M470.8 55.02 L473.8 60.22 L467.8 60.22 Z" fill="#c8578a"/><circle cx="505.1" cy="58.22" r="2.2" fill="#c8578a"/><path d="M547.6 64.72 L550.6 69.92 L544.6 69.92 Z" fill="#c8578a"/><circle cx="554.9" cy="67.92" r="2.2" fill="#c8578a"/><path d="M482.9 74.42 L485.9 79.62 L479.9 79.62 Z" fill="#c8578a"/><circle cx="505.3" cy="77.62" r="2.2" fill="#c8578a"/><path d="M491.5 84.13 L494.5 89.33 L488.5 89.33 Z" fill="#c8578a"/><circle cx="505.1" cy="87.33" r="2.2" fill="#c8578a"/><path d="M462 93.83 L465 99.03 L459 99.03 Z" fill="#c8578a"/><circle cx="505" cy="97.03" r="2.2" fill="#c8578a"/><path d="M467.4 103.54 L470.4 108.74 L464.4 108.74 Z" fill="#c8578a"/><circle cx="505" cy="106.74" r="2.2" fill="#c8578a"/><path d="M488.4 113.24 L491.4 118.44 L485.4 118.44 Z" fill="#c8578a"/><circle cx="505" cy="116.44" r="2.2" fill="#c8578a"/><path d="M513.4 122.94 L516.4 128.14 L510.4 128.14 Z" fill="#c8578a"/><circle cx="546.8" cy="126.14" r="2.2" fill="#c8578a"/><path d="M518 132.65 L521 137.85 L515 137.85 Z" fill="#c8578a"/><circle cx="529.3" cy="135.85" r="2.2" fill="#c8578a"/><path d="M495.9 142.35 L498.9 147.55 L492.9 147.55 Z" fill="#c8578a"/><circle cx="505" cy="145.55" r="2.2" fill="#c8578a"/><path d="M562.2 152.06 L565.2 157.26 L559.2 157.26 Z" fill="#c8578a"/><circle cx="566" cy="155.26" r="2.2" fill="#c8578a"/><path d="M627.3 161.76 L630.3 166.96 L624.3 166.96 Z" fill="#c8578a"/><circle cx="632.9" cy="164.96" r="2.2" fill="#c8578a"/><path d="M520.6 171.46 L523.6 176.66 L517.6 176.66 Z" fill="#c8578a"/><circle cx="529.7" cy="174.66" r="2.2" fill="#c8578a"/><path d="M557.8 181.17 L560.8 186.37 L554.8 186.37 Z" fill="#c8578a"/><circle cx="571.3" cy="184.37" r="2.2" fill="#c8578a"/><path d="M531.6 190.87 L534.6 196.07 L528.6 196.07 Z" fill="#c8578a"/><circle cx="555.2" cy="194.07" r="2.2" fill="#c8578a"/><path d="M522.3 200.58 L525.3 205.78 L519.3 205.78 Z" fill="#c8578a"/><circle cx="529.7" cy="203.78" r="2.2" fill="#c8578a"/><path d="M501.2 210.28 L504.2 215.48 L498.2 215.48 Z" fill="#c8578a"/><circle cx="529.7" cy="213.48" r="2.2" fill="#c8578a"/><path d="M532.6 219.98 L535.6 225.18 L529.6 225.18 Z" fill="#c8578a"/><circle cx="554.8" cy="223.18" r="2.2" fill="#c8578a"/><path d="M525.9 229.69 L528.9 234.89 L522.9 234.89 Z" fill="#c8578a"/><circle cx="554.6" cy="232.89" r="2.2" fill="#c8578a"/><path d="M557.4 239.39 L560.4 244.59 L554.4 244.59 Z" fill="#c8578a"/><circle cx="571.4" cy="242.59" r="2.2" fill="#c8578a"/><path d="M557.4 249.1 L560.4 254.3 L554.4 254.3 Z" fill="#c8578a"/><circle cx="563.2" cy="252.3" r="2.2" fill="#c8578a"/><path d="M586.1 258.8 L589.1 264 L583.1 264 Z" fill="#c8578a"/><circle cx="605.5" cy="262" r="2.2" fill="#c8578a"/><path d="M559.3 268.5 L562.3 273.7 L556.3 273.7 Z" fill="#c8578a"/><circle cx="566.3" cy="271.7" r="2.2" fill="#c8578a"/><path d="M556.2 278.21 L559.2 283.41 L553.2 283.41 Z" fill="#c8578a"/><circle cx="561.6" cy="281.41" r="2.2" fill="#c8578a"/><path d="M573.7 287.91 L576.7 293.11 L570.7 293.11 Z" fill="#c8578a"/><circle cx="576.5" cy="291.11" r="2.2" fill="#c8578a"/><path d="M561.9 297.62 L564.9 302.82 L558.9 302.82 Z" fill="#c8578a"/><circle cx="566.6" cy="300.82" r="2.2" fill="#c8578a"/><path d="M568.9 307.32 L571.9 312.52 L565.9 312.52 Z" fill="#c8578a"/><circle cx="571.2" cy="310.52" r="2.2" fill="#c8578a"/><path d="M563.5 317.02 L566.5 322.22 L560.5 322.22 Z" fill="#c8578a"/><circle cx="576.4" cy="320.22" r="2.2" fill="#c8578a"/><path d="M572.9 326.73 L575.9 331.93 L569.9 331.93 Z" fill="#c8578a"/><circle cx="576.6" cy="329.93" r="2.2" fill="#c8578a"/><path d="M578.3 336.43 L581.3 341.63 L575.3 341.63 Z" fill="#c8578a"/><circle cx="582.9" cy="339.63" r="2.2" fill="#c8578a"/><path d="M584.1 346.14 L587.1 351.34 L581.1 351.34 Z" fill="#c8578a"/><circle cx="593" cy="349.34" r="2.2" fill="#c8578a"/><path d="M563.5 355.84 L566.5 361.04 L560.5 361.04 Z" fill="#c8578a"/><circle cx="582.9" cy="359.04" r="2.2" fill="#c8578a"/><path d="M581.8 365.54 L584.8 370.74 L578.8 370.74 Z" fill="#c8578a"/><circle cx="594.4" cy="368.74" r="2.2" fill="#c8578a"/><path d="M598.1 375.25 L601.1 380.45 L595.1 380.45 Z" fill="#c8578a"/><circle cx="599.7" cy="378.45" r="2.2" fill="#c8578a"/><path d="M575.2 384.95 L578.2 390.15 L572.2 390.15 Z" fill="#c8578a"/><circle cx="594.4" cy="388.15" r="2.2" fill="#c8578a"/><path d="M598.1 394.66 L601.1 399.86 L595.1 399.86 Z" fill="#c8578a"/><circle cx="611" cy="397.86" r="2.2" fill="#c8578a"/><path d="M609.8 404.36 L612.8 409.56 L606.8 409.56 Z" fill="#c8578a"/><circle cx="618.4" cy="407.56" r="2.2" fill="#c8578a"/><path d="M610.3 414.06 L613.3 419.26 L607.3 419.26 Z" fill="#c8578a"/><circle cx="618.4" cy="417.26" r="2.2" fill="#c8578a"/><path d="M606.8 423.77 L609.8 428.97 L603.8 428.97 Z" fill="#c8578a"/><circle cx="610.8" cy="426.97" r="2.2" fill="#c8578a"/><path d="M592.3 433.47 L595.3 438.67 L589.3 438.67 Z" fill="#c8578a"/><circle cx="618.4" cy="436.67" r="2.2" fill="#c8578a"/><path d="M616.6 443.18 L619.6 448.38 L613.6 448.38 Z" fill="#c8578a"/><circle cx="618.4" cy="446.38" r="2.2" fill="#c8578a"/><path d="M618.4 452.88 L621.4 458.08 L615.4 458.08 Z" fill="#c8578a"/><circle cx="622.6" cy="456.08" r="2.2" fill="#c8578a"/><path d="M631.8 462.58 L634.8 467.78 L628.8 467.78 Z" fill="#c8578a"/><circle cx="655.3" cy="465.78" r="2.2" fill="#c8578a"/><path d="M675.7 472.29 L678.7 477.49 L672.7 477.49 Z" fill="#c8578a"/><circle cx="676.8" cy="475.49" r="2.2" fill="#c8578a"/></svg>
<!-- chart legend -->
<div style="position:absolute;left:425px;top:352.8px;width:2.6px;height:14.2px;background:#8aa04f"></div>
<div class="lg" style="left:436px;top:354.4px">Medoid Transmission Index</div>
<div style="position:absolute;left:412px;top:373.5px;width:28.2px;height:14.2px;background:#d3dca6"></div>
<div class="lg" style="left:447px;top:374.4px">95%CI Transmission Index</div>
<div style="position:absolute;left:425.2px;top:392.6px;width:2.8px;height:14.4px;background:#4d6c9c"></div>
<div class="lg" style="left:465px;top:393.6px">Mean tMRCA</div>
<div style="position:absolute;left:413px;top:411.7px;width:28.3px;height:14.2px;background:#94c2ea"></div>
<div class="lg" style="left:458px;top:412.8px">95%HPD tMRCA</div>
<div style="position:absolute;left:419.8px;top:431.8px;width:14.4px;height:14.4px;border-radius:50%;background:#c8578a"></div>
<div class="lg" style="left:454.2px;top:433.4px">Strain first detected</div>
<svg style="position:absolute;left:418.9px;top:452px" width="16" height="13.6" viewBox="0 0 16 13.6"><path d="M8 0 L16 13.6 L0 13.6 Z" fill="#c8578a"/></svg>
<div class="lg" style="left:445.3px;top:454.3px">Index patient admission</div>
<!-- axes -->
<div class="ax" style="left:405.2px;width:31.7px;top:478.1px"></div>
<div class="ax" style="left:442.4px;width:235.4px;top:478.1px"></div>
<div class="tk" style="left:406px;top:478.6px"></div>
<div class="tk" style="left:432.2px;top:478.6px"></div>
<div class="tk" style="left:475.3px;top:478.6px"></div>
<div class="tk" style="left:517.5px;top:478.6px"></div>
<div class="tk" style="left:559.3px;top:478.6px"></div>
<div class="tk" style="left:601.5px;top:478.6px"></div>
<div class="tk" style="left:643.4px;top:478.6px"></div>
<div class="xl" style="left:455.8px;top:481.0px">May 2021</div>
<div class="xl" style="left:497.8px;top:481.0px">Dec 2021</div>
<div class="xl" style="left:540.6px;top:481.0px">Aug 2022</div>
<div class="xl" style="left:582.6px;top:481.0px">Mar 2023</div>
<div class="xl" style="left:624.8px;top:481.0px">Nov 2023</div>
<div class="xl" style="left:406.6px;top:479.6px;transform-origin:100% 0;transform:translateX(-100%) rotate(-45deg)">Oct 2012</div>
<div class="xl" style="left:430.2px;top:480.0px;transform-origin:100% 0;transform:translateX(-100%) rotate(-45deg)">Feb 2019</div>
<div style="position:absolute;left:517px;top:490px;font-size:21px;line-height:24px;color:#111">Month</div>
<div style="position:absolute;left:379px;top:242px;font-size:21px;line-height:24px;color:#111;transform:translate(-50%,-50%) rotate(-90deg);white-space:nowrap">Cluster</div>
</body></html>
